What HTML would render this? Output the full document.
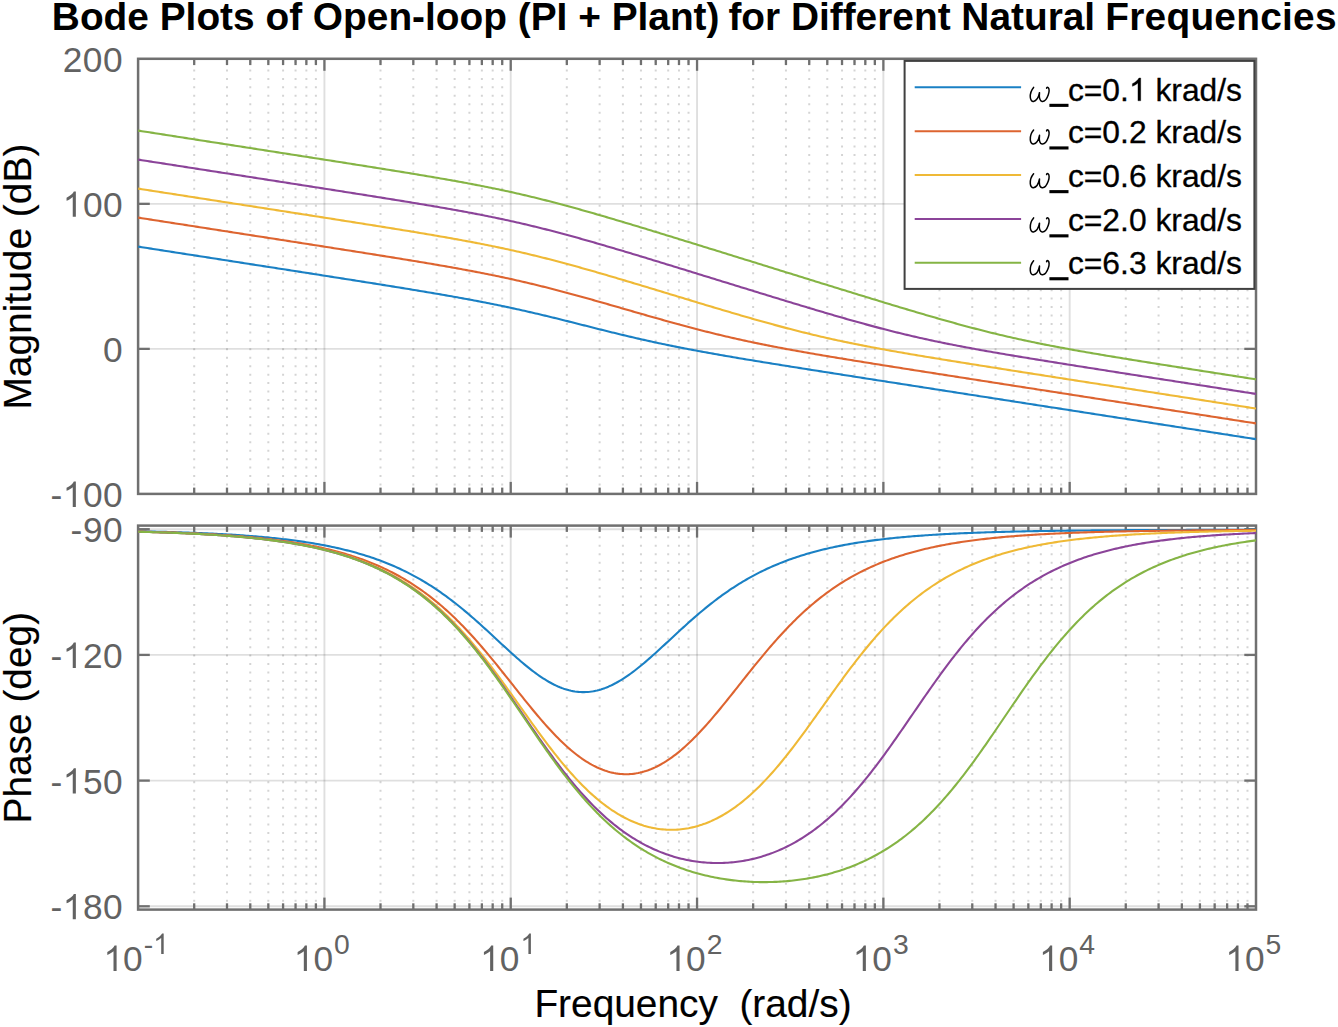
<!DOCTYPE html>
<html><head><meta charset="utf-8"><title>Bode Plots</title>
<style>
html,body{margin:0;padding:0;background:#fff;}
body{width:1338px;height:1027px;overflow:hidden;font-family:"Liberation Sans",sans-serif;}
svg{display:block;}
text{font-family:"Liberation Sans",sans-serif;}
.tk{fill:#707070;font-size:35.3px;}
.ex{fill:#707070;font-size:28.2px;}
.lb{fill:#000;font-size:38.85px;stroke:#000;stroke-width:0.15px;}
.lg{fill:#000;font-size:31.8px;stroke:#000;stroke-width:0.3px;}
</style></head><body>
<svg width="1338" height="1027" viewBox="0 0 1338 1027">
<rect x="0" y="0" width="1338" height="1027" fill="#ffffff"/>
<defs>
<clipPath id="c1"><rect x="138.1" y="58.8" width="1117.9" height="435.09999999999997"/></clipPath>
<clipPath id="c2"><rect x="138.1" y="525.6" width="1117.9" height="384.0"/></clipPath>
</defs>

<g stroke="#000" stroke-opacity="0.17" stroke-width="2" stroke-dasharray="2 6.45" fill="none">
<line x1="194.19" y1="61.00" x2="194.19" y2="493.90"/>
<line x1="227.00" y1="61.00" x2="227.00" y2="493.90"/>
<line x1="250.27" y1="61.00" x2="250.27" y2="493.90"/>
<line x1="268.33" y1="61.00" x2="268.33" y2="493.90"/>
<line x1="283.08" y1="61.00" x2="283.08" y2="493.90"/>
<line x1="295.56" y1="61.00" x2="295.56" y2="493.90"/>
<line x1="306.36" y1="61.00" x2="306.36" y2="493.90"/>
<line x1="315.89" y1="61.00" x2="315.89" y2="493.90"/>
<line x1="380.50" y1="61.00" x2="380.50" y2="493.90"/>
<line x1="413.31" y1="61.00" x2="413.31" y2="493.90"/>
<line x1="436.59" y1="61.00" x2="436.59" y2="493.90"/>
<line x1="454.65" y1="61.00" x2="454.65" y2="493.90"/>
<line x1="469.40" y1="61.00" x2="469.40" y2="493.90"/>
<line x1="481.87" y1="61.00" x2="481.87" y2="493.90"/>
<line x1="492.68" y1="61.00" x2="492.68" y2="493.90"/>
<line x1="502.21" y1="61.00" x2="502.21" y2="493.90"/>
<line x1="566.82" y1="61.00" x2="566.82" y2="493.90"/>
<line x1="599.63" y1="61.00" x2="599.63" y2="493.90"/>
<line x1="622.91" y1="61.00" x2="622.91" y2="493.90"/>
<line x1="640.96" y1="61.00" x2="640.96" y2="493.90"/>
<line x1="655.72" y1="61.00" x2="655.72" y2="493.90"/>
<line x1="668.19" y1="61.00" x2="668.19" y2="493.90"/>
<line x1="678.99" y1="61.00" x2="678.99" y2="493.90"/>
<line x1="688.52" y1="61.00" x2="688.52" y2="493.90"/>
<line x1="753.14" y1="61.00" x2="753.14" y2="493.90"/>
<line x1="785.95" y1="61.00" x2="785.95" y2="493.90"/>
<line x1="809.22" y1="61.00" x2="809.22" y2="493.90"/>
<line x1="827.28" y1="61.00" x2="827.28" y2="493.90"/>
<line x1="842.03" y1="61.00" x2="842.03" y2="493.90"/>
<line x1="854.51" y1="61.00" x2="854.51" y2="493.90"/>
<line x1="865.31" y1="61.00" x2="865.31" y2="493.90"/>
<line x1="874.84" y1="61.00" x2="874.84" y2="493.90"/>
<line x1="939.45" y1="61.00" x2="939.45" y2="493.90"/>
<line x1="972.26" y1="61.00" x2="972.26" y2="493.90"/>
<line x1="995.54" y1="61.00" x2="995.54" y2="493.90"/>
<line x1="1013.60" y1="61.00" x2="1013.60" y2="493.90"/>
<line x1="1028.35" y1="61.00" x2="1028.35" y2="493.90"/>
<line x1="1040.82" y1="61.00" x2="1040.82" y2="493.90"/>
<line x1="1051.63" y1="61.00" x2="1051.63" y2="493.90"/>
<line x1="1061.16" y1="61.00" x2="1061.16" y2="493.90"/>
<line x1="1125.77" y1="61.00" x2="1125.77" y2="493.90"/>
<line x1="1158.58" y1="61.00" x2="1158.58" y2="493.90"/>
<line x1="1181.86" y1="61.00" x2="1181.86" y2="493.90"/>
<line x1="1199.91" y1="61.00" x2="1199.91" y2="493.90"/>
<line x1="1214.67" y1="61.00" x2="1214.67" y2="493.90"/>
<line x1="1227.14" y1="61.00" x2="1227.14" y2="493.90"/>
<line x1="1237.94" y1="61.00" x2="1237.94" y2="493.90"/>
<line x1="1247.47" y1="61.00" x2="1247.47" y2="493.90"/>
</g>
<g stroke="#262626" stroke-opacity="0.15" stroke-width="1.9" fill="none">
<line x1="324.42" y1="58.8" x2="324.42" y2="493.9"/>
<line x1="510.73" y1="58.8" x2="510.73" y2="493.9"/>
<line x1="697.05" y1="58.8" x2="697.05" y2="493.9"/>
<line x1="883.37" y1="58.8" x2="883.37" y2="493.9"/>
<line x1="1069.68" y1="58.8" x2="1069.68" y2="493.9"/>
<line x1="138.1" y1="58.80" x2="1256.0" y2="58.80"/>
<line x1="138.1" y1="203.83" x2="1256.0" y2="203.83"/>
<line x1="138.1" y1="348.87" x2="1256.0" y2="348.87"/>
<line x1="138.1" y1="493.90" x2="1256.0" y2="493.90"/>
</g>
<g stroke="#707070" stroke-width="2.3" fill="none">
<line x1="194.19" y1="58.8" x2="194.19" y2="65.10"/>
<line x1="194.19" y1="493.9" x2="194.19" y2="487.60"/>
<line x1="227.00" y1="58.8" x2="227.00" y2="65.10"/>
<line x1="227.00" y1="493.9" x2="227.00" y2="487.60"/>
<line x1="250.27" y1="58.8" x2="250.27" y2="65.10"/>
<line x1="250.27" y1="493.9" x2="250.27" y2="487.60"/>
<line x1="268.33" y1="58.8" x2="268.33" y2="65.10"/>
<line x1="268.33" y1="493.9" x2="268.33" y2="487.60"/>
<line x1="283.08" y1="58.8" x2="283.08" y2="65.10"/>
<line x1="283.08" y1="493.9" x2="283.08" y2="487.60"/>
<line x1="295.56" y1="58.8" x2="295.56" y2="65.10"/>
<line x1="295.56" y1="493.9" x2="295.56" y2="487.60"/>
<line x1="306.36" y1="58.8" x2="306.36" y2="65.10"/>
<line x1="306.36" y1="493.9" x2="306.36" y2="487.60"/>
<line x1="315.89" y1="58.8" x2="315.89" y2="65.10"/>
<line x1="315.89" y1="493.9" x2="315.89" y2="487.60"/>
<line x1="324.42" y1="58.8" x2="324.42" y2="70.80"/>
<line x1="324.42" y1="493.9" x2="324.42" y2="481.90"/>
<line x1="380.50" y1="58.8" x2="380.50" y2="65.10"/>
<line x1="380.50" y1="493.9" x2="380.50" y2="487.60"/>
<line x1="413.31" y1="58.8" x2="413.31" y2="65.10"/>
<line x1="413.31" y1="493.9" x2="413.31" y2="487.60"/>
<line x1="436.59" y1="58.8" x2="436.59" y2="65.10"/>
<line x1="436.59" y1="493.9" x2="436.59" y2="487.60"/>
<line x1="454.65" y1="58.8" x2="454.65" y2="65.10"/>
<line x1="454.65" y1="493.9" x2="454.65" y2="487.60"/>
<line x1="469.40" y1="58.8" x2="469.40" y2="65.10"/>
<line x1="469.40" y1="493.9" x2="469.40" y2="487.60"/>
<line x1="481.87" y1="58.8" x2="481.87" y2="65.10"/>
<line x1="481.87" y1="493.9" x2="481.87" y2="487.60"/>
<line x1="492.68" y1="58.8" x2="492.68" y2="65.10"/>
<line x1="492.68" y1="493.9" x2="492.68" y2="487.60"/>
<line x1="502.21" y1="58.8" x2="502.21" y2="65.10"/>
<line x1="502.21" y1="493.9" x2="502.21" y2="487.60"/>
<line x1="510.73" y1="58.8" x2="510.73" y2="70.80"/>
<line x1="510.73" y1="493.9" x2="510.73" y2="481.90"/>
<line x1="566.82" y1="58.8" x2="566.82" y2="65.10"/>
<line x1="566.82" y1="493.9" x2="566.82" y2="487.60"/>
<line x1="599.63" y1="58.8" x2="599.63" y2="65.10"/>
<line x1="599.63" y1="493.9" x2="599.63" y2="487.60"/>
<line x1="622.91" y1="58.8" x2="622.91" y2="65.10"/>
<line x1="622.91" y1="493.9" x2="622.91" y2="487.60"/>
<line x1="640.96" y1="58.8" x2="640.96" y2="65.10"/>
<line x1="640.96" y1="493.9" x2="640.96" y2="487.60"/>
<line x1="655.72" y1="58.8" x2="655.72" y2="65.10"/>
<line x1="655.72" y1="493.9" x2="655.72" y2="487.60"/>
<line x1="668.19" y1="58.8" x2="668.19" y2="65.10"/>
<line x1="668.19" y1="493.9" x2="668.19" y2="487.60"/>
<line x1="678.99" y1="58.8" x2="678.99" y2="65.10"/>
<line x1="678.99" y1="493.9" x2="678.99" y2="487.60"/>
<line x1="688.52" y1="58.8" x2="688.52" y2="65.10"/>
<line x1="688.52" y1="493.9" x2="688.52" y2="487.60"/>
<line x1="697.05" y1="58.8" x2="697.05" y2="70.80"/>
<line x1="697.05" y1="493.9" x2="697.05" y2="481.90"/>
<line x1="753.14" y1="58.8" x2="753.14" y2="65.10"/>
<line x1="753.14" y1="493.9" x2="753.14" y2="487.60"/>
<line x1="785.95" y1="58.8" x2="785.95" y2="65.10"/>
<line x1="785.95" y1="493.9" x2="785.95" y2="487.60"/>
<line x1="809.22" y1="58.8" x2="809.22" y2="65.10"/>
<line x1="809.22" y1="493.9" x2="809.22" y2="487.60"/>
<line x1="827.28" y1="58.8" x2="827.28" y2="65.10"/>
<line x1="827.28" y1="493.9" x2="827.28" y2="487.60"/>
<line x1="842.03" y1="58.8" x2="842.03" y2="65.10"/>
<line x1="842.03" y1="493.9" x2="842.03" y2="487.60"/>
<line x1="854.51" y1="58.8" x2="854.51" y2="65.10"/>
<line x1="854.51" y1="493.9" x2="854.51" y2="487.60"/>
<line x1="865.31" y1="58.8" x2="865.31" y2="65.10"/>
<line x1="865.31" y1="493.9" x2="865.31" y2="487.60"/>
<line x1="874.84" y1="58.8" x2="874.84" y2="65.10"/>
<line x1="874.84" y1="493.9" x2="874.84" y2="487.60"/>
<line x1="883.37" y1="58.8" x2="883.37" y2="70.80"/>
<line x1="883.37" y1="493.9" x2="883.37" y2="481.90"/>
<line x1="939.45" y1="58.8" x2="939.45" y2="65.10"/>
<line x1="939.45" y1="493.9" x2="939.45" y2="487.60"/>
<line x1="972.26" y1="58.8" x2="972.26" y2="65.10"/>
<line x1="972.26" y1="493.9" x2="972.26" y2="487.60"/>
<line x1="995.54" y1="58.8" x2="995.54" y2="65.10"/>
<line x1="995.54" y1="493.9" x2="995.54" y2="487.60"/>
<line x1="1013.60" y1="58.8" x2="1013.60" y2="65.10"/>
<line x1="1013.60" y1="493.9" x2="1013.60" y2="487.60"/>
<line x1="1028.35" y1="58.8" x2="1028.35" y2="65.10"/>
<line x1="1028.35" y1="493.9" x2="1028.35" y2="487.60"/>
<line x1="1040.82" y1="58.8" x2="1040.82" y2="65.10"/>
<line x1="1040.82" y1="493.9" x2="1040.82" y2="487.60"/>
<line x1="1051.63" y1="58.8" x2="1051.63" y2="65.10"/>
<line x1="1051.63" y1="493.9" x2="1051.63" y2="487.60"/>
<line x1="1061.16" y1="58.8" x2="1061.16" y2="65.10"/>
<line x1="1061.16" y1="493.9" x2="1061.16" y2="487.60"/>
<line x1="1069.68" y1="58.8" x2="1069.68" y2="70.80"/>
<line x1="1069.68" y1="493.9" x2="1069.68" y2="481.90"/>
<line x1="1125.77" y1="58.8" x2="1125.77" y2="65.10"/>
<line x1="1125.77" y1="493.9" x2="1125.77" y2="487.60"/>
<line x1="1158.58" y1="58.8" x2="1158.58" y2="65.10"/>
<line x1="1158.58" y1="493.9" x2="1158.58" y2="487.60"/>
<line x1="1181.86" y1="58.8" x2="1181.86" y2="65.10"/>
<line x1="1181.86" y1="493.9" x2="1181.86" y2="487.60"/>
<line x1="1199.91" y1="58.8" x2="1199.91" y2="65.10"/>
<line x1="1199.91" y1="493.9" x2="1199.91" y2="487.60"/>
<line x1="1214.67" y1="58.8" x2="1214.67" y2="65.10"/>
<line x1="1214.67" y1="493.9" x2="1214.67" y2="487.60"/>
<line x1="1227.14" y1="58.8" x2="1227.14" y2="65.10"/>
<line x1="1227.14" y1="493.9" x2="1227.14" y2="487.60"/>
<line x1="1237.94" y1="58.8" x2="1237.94" y2="65.10"/>
<line x1="1237.94" y1="493.9" x2="1237.94" y2="487.60"/>
<line x1="1247.47" y1="58.8" x2="1247.47" y2="65.10"/>
<line x1="1247.47" y1="493.9" x2="1247.47" y2="487.60"/>
<line x1="138.1" y1="203.83" x2="149.79999999999998" y2="203.83"/>
<line x1="1256.0" y1="203.83" x2="1244.3" y2="203.83"/>
<line x1="138.1" y1="348.87" x2="149.79999999999998" y2="348.87"/>
<line x1="1256.0" y1="348.87" x2="1244.3" y2="348.87"/>
</g>
<rect x="138.1" y="58.8" width="1117.9" height="435.09999999999997" fill="none" stroke="#707070" stroke-width="2.5"/>
<g clip-path="url(#c1)" fill="none" stroke-width="2.1" stroke-linejoin="round">
<polyline stroke="#1A80C4" points="138.10,246.61 139.97,246.90 141.83,247.19 143.70,247.48 145.57,247.77 147.43,248.07 149.30,248.36 151.16,248.65 153.03,248.94 154.90,249.23 156.76,249.52 158.63,249.81 160.50,250.10 162.36,250.39 164.23,250.68 166.09,250.97 167.96,251.26 169.83,251.55 171.69,251.84 173.56,252.13 175.43,252.42 177.29,252.71 179.16,253.01 181.02,253.30 182.89,253.59 184.76,253.88 186.62,254.17 188.49,254.46 190.36,254.75 192.22,255.04 194.09,255.33 195.95,255.62 197.82,255.91 199.69,256.20 201.55,256.49 203.42,256.78 205.29,257.07 207.15,257.36 209.02,257.66 210.88,257.95 212.75,258.24 214.62,258.53 216.48,258.82 218.35,259.11 220.22,259.40 222.08,259.69 223.95,259.98 225.82,260.27 227.68,260.56 229.55,260.85 231.41,261.14 233.28,261.43 235.15,261.73 237.01,262.02 238.88,262.31 240.75,262.60 242.61,262.89 244.48,263.18 246.34,263.47 248.21,263.76 250.08,264.05 251.94,264.34 253.81,264.63 255.68,264.92 257.54,265.22 259.41,265.51 261.27,265.80 263.14,266.09 265.01,266.38 266.87,266.67 268.74,266.96 270.61,267.25 272.47,267.54 274.34,267.83 276.20,268.13 278.07,268.42 279.94,268.71 281.80,269.00 283.67,269.29 285.54,269.58 287.40,269.87 289.27,270.16 291.13,270.46 293.00,270.75 294.87,271.04 296.73,271.33 298.60,271.62 300.47,271.91 302.33,272.21 304.20,272.50 306.06,272.79 307.93,273.08 309.80,273.37 311.66,273.66 313.53,273.96 315.40,274.25 317.26,274.54 319.13,274.83 321.00,275.13 322.86,275.42 324.73,275.71 326.59,276.00 328.46,276.30 330.33,276.59 332.19,276.88 334.06,277.17 335.93,277.47 337.79,277.76 339.66,278.05 341.52,278.35 343.39,278.64 345.26,278.93 347.12,279.23 348.99,279.52 350.86,279.82 352.72,280.11 354.59,280.41 356.45,280.70 358.32,281.00 360.19,281.29 362.05,281.59 363.92,281.88 365.79,282.18 367.65,282.47 369.52,282.77 371.38,283.07 373.25,283.36 375.12,283.66 376.98,283.96 378.85,284.26 380.72,284.55 382.58,284.85 384.45,285.15 386.31,285.45 388.18,285.75 390.05,286.05 391.91,286.35 393.78,286.65 395.65,286.95 397.51,287.25 399.38,287.56 401.25,287.86 403.11,288.16 404.98,288.47 406.84,288.77 408.71,289.08 410.58,289.38 412.44,289.69 414.31,290.00 416.18,290.30 418.04,290.61 419.91,290.92 421.77,291.23 423.64,291.54 425.51,291.86 427.37,292.17 429.24,292.48 431.11,292.80 432.97,293.12 434.84,293.43 436.70,293.75 438.57,294.07 440.44,294.39 442.30,294.71 444.17,295.04 446.04,295.36 447.90,295.69 449.77,296.01 451.63,296.34 453.50,296.67 455.37,297.01 457.23,297.34 459.10,297.67 460.97,298.01 462.83,298.35 464.70,298.69 466.56,299.03 468.43,299.38 470.30,299.72 472.16,300.07 474.03,300.42 475.90,300.78 477.76,301.13 479.63,301.49 481.49,301.85 483.36,302.21 485.23,302.57 487.09,302.94 488.96,303.31 490.83,303.68 492.69,304.05 494.56,304.43 496.43,304.81 498.29,305.19 500.16,305.58 502.02,305.96 503.89,306.35 505.76,306.75 507.62,307.14 509.49,307.54 511.36,307.94 513.22,308.35 515.09,308.75 516.95,309.16 518.82,309.57 520.69,309.99 522.55,310.41 524.42,310.83 526.29,311.25 528.15,311.68 530.02,312.11 531.88,312.54 533.75,312.97 535.62,313.41 537.48,313.84 539.35,314.29 541.22,314.73 543.08,315.17 544.95,315.62 546.81,316.07 548.68,316.52 550.55,316.98 552.41,317.43 554.28,317.89 556.15,318.35 558.01,318.81 559.88,319.28 561.74,319.74 563.61,320.20 565.48,320.67 567.34,321.14 569.21,321.61 571.08,322.08 572.94,322.55 574.81,323.02 576.68,323.49 578.54,323.96 580.41,324.43 582.27,324.91 584.14,325.38 586.01,325.85 587.87,326.32 589.74,326.80 591.61,327.27 593.47,327.74 595.34,328.21 597.20,328.68 599.07,329.15 600.94,329.61 602.80,330.08 604.67,330.55 606.54,331.01 608.40,331.47 610.27,331.94 612.13,332.40 614.00,332.85 615.87,333.31 617.73,333.76 619.60,334.22 621.47,334.67 623.33,335.12 625.20,335.56 627.06,336.01 628.93,336.45 630.80,336.89 632.66,337.32 634.53,337.76 636.40,338.19 638.26,338.62 640.13,339.05 641.99,339.47 643.86,339.89 645.73,340.31 647.59,340.73 649.46,341.14 651.33,341.55 653.19,341.96 655.06,342.36 656.93,342.76 658.79,343.16 660.66,343.56 662.52,343.95 664.39,344.34 666.26,344.73 668.12,345.12 669.99,345.50 671.86,345.88 673.72,346.26 675.59,346.63 677.45,347.00 679.32,347.37 681.19,347.74 683.05,348.10 684.92,348.47 686.79,348.83 688.65,349.18 690.52,349.54 692.38,349.89 694.25,350.24 696.12,350.59 697.98,350.94 699.85,351.29 701.72,351.63 703.58,351.97 705.45,352.31 707.31,352.65 709.18,352.98 711.05,353.32 712.91,353.65 714.78,353.98 716.65,354.31 718.51,354.64 720.38,354.96 722.24,355.29 724.11,355.61 725.98,355.93 727.84,356.26 729.71,356.57 731.58,356.89 733.44,357.21 735.31,357.53 737.17,357.84 739.04,358.16 740.91,358.47 742.77,358.78 744.64,359.09 746.51,359.41 748.37,359.71 750.24,360.02 752.11,360.33 753.97,360.64 755.84,360.95 757.70,361.25 759.57,361.56 761.44,361.86 763.30,362.17 765.17,362.47 767.04,362.77 768.90,363.08 770.77,363.38 772.63,363.68 774.50,363.98 776.37,364.28 778.23,364.58 780.10,364.88 781.97,365.18 783.83,365.48 785.70,365.78 787.56,366.08 789.43,366.37 791.30,366.67 793.16,366.97 795.03,367.27 796.90,367.56 798.76,367.86 800.63,368.15 802.49,368.45 804.36,368.75 806.23,369.04 808.09,369.34 809.96,369.63 811.83,369.93 813.69,370.22 815.56,370.52 817.42,370.81 819.29,371.10 821.16,371.40 823.02,371.69 824.89,371.99 826.76,372.28 828.62,372.57 830.49,372.87 832.36,373.16 834.22,373.45 836.09,373.74 837.95,374.04 839.82,374.33 841.69,374.62 843.55,374.92 845.42,375.21 847.29,375.50 849.15,375.79 851.02,376.08 852.88,376.38 854.75,376.67 856.62,376.96 858.48,377.25 860.35,377.54 862.22,377.84 864.08,378.13 865.95,378.42 867.81,378.71 869.68,379.00 871.55,379.29 873.41,379.59 875.28,379.88 877.15,380.17 879.01,380.46 880.88,380.75 882.74,381.04 884.61,381.33 886.48,381.63 888.34,381.92 890.21,382.21 892.08,382.50 893.94,382.79 895.81,383.08 897.67,383.37 899.54,383.66 901.41,383.95 903.27,384.24 905.14,384.54 907.01,384.83 908.87,385.12 910.74,385.41 912.61,385.70 914.47,385.99 916.34,386.28 918.20,386.57 920.07,386.86 921.94,387.15 923.80,387.44 925.67,387.74 927.54,388.03 929.40,388.32 931.27,388.61 933.13,388.90 935.00,389.19 936.87,389.48 938.73,389.77 940.60,390.06 942.47,390.35 944.33,390.64 946.20,390.93 948.06,391.22 949.93,391.52 951.80,391.81 953.66,392.10 955.53,392.39 957.40,392.68 959.26,392.97 961.13,393.26 962.99,393.55 964.86,393.84 966.73,394.13 968.59,394.42 970.46,394.71 972.33,395.00 974.19,395.29 976.06,395.58 977.92,395.88 979.79,396.17 981.66,396.46 983.52,396.75 985.39,397.04 987.26,397.33 989.12,397.62 990.99,397.91 992.85,398.20 994.72,398.49 996.59,398.78 998.45,399.07 1000.32,399.36 1002.19,399.65 1004.05,399.94 1005.92,400.23 1007.79,400.52 1009.65,400.82 1011.52,401.11 1013.38,401.40 1015.25,401.69 1017.12,401.98 1018.98,402.27 1020.85,402.56 1022.72,402.85 1024.58,403.14 1026.45,403.43 1028.31,403.72 1030.18,404.01 1032.05,404.30 1033.91,404.59 1035.78,404.88 1037.65,405.17 1039.51,405.46 1041.38,405.76 1043.24,406.05 1045.11,406.34 1046.98,406.63 1048.84,406.92 1050.71,407.21 1052.58,407.50 1054.44,407.79 1056.31,408.08 1058.17,408.37 1060.04,408.66 1061.91,408.95 1063.77,409.24 1065.64,409.53 1067.51,409.82 1069.37,410.11 1071.24,410.40 1073.10,410.69 1074.97,410.99 1076.84,411.28 1078.70,411.57 1080.57,411.86 1082.44,412.15 1084.30,412.44 1086.17,412.73 1088.04,413.02 1089.90,413.31 1091.77,413.60 1093.63,413.89 1095.50,414.18 1097.37,414.47 1099.23,414.76 1101.10,415.05 1102.97,415.34 1104.83,415.63 1106.70,415.92 1108.56,416.22 1110.43,416.51 1112.30,416.80 1114.16,417.09 1116.03,417.38 1117.90,417.67 1119.76,417.96 1121.63,418.25 1123.49,418.54 1125.36,418.83 1127.23,419.12 1129.09,419.41 1130.96,419.70 1132.83,419.99 1134.69,420.28 1136.56,420.57 1138.42,420.86 1140.29,421.15 1142.16,421.45 1144.02,421.74 1145.89,422.03 1147.76,422.32 1149.62,422.61 1151.49,422.90 1153.35,423.19 1155.22,423.48 1157.09,423.77 1158.95,424.06 1160.82,424.35 1162.69,424.64 1164.55,424.93 1166.42,425.22 1168.28,425.51 1170.15,425.80 1172.02,426.09 1173.88,426.38 1175.75,426.67 1177.62,426.97 1179.48,427.26 1181.35,427.55 1183.22,427.84 1185.08,428.13 1186.95,428.42 1188.81,428.71 1190.68,429.00 1192.55,429.29 1194.41,429.58 1196.28,429.87 1198.15,430.16 1200.01,430.45 1201.88,430.74 1203.74,431.03 1205.61,431.32 1207.48,431.61 1209.34,431.90 1211.21,432.20 1213.08,432.49 1214.94,432.78 1216.81,433.07 1218.67,433.36 1220.54,433.65 1222.41,433.94 1224.27,434.23 1226.14,434.52 1228.01,434.81 1229.87,435.10 1231.74,435.39 1233.60,435.68 1235.47,435.97 1237.34,436.26 1239.20,436.55 1241.07,436.84 1242.94,437.13 1244.80,437.43 1246.67,437.72 1248.53,438.01 1250.40,438.30 1252.27,438.59 1254.13,438.88 1256.00,439.17"/>
<polyline stroke="#DD6430" points="138.10,217.61 139.97,217.90 141.83,218.19 143.70,218.48 145.57,218.77 147.43,219.06 149.30,219.35 151.16,219.64 153.03,219.93 154.90,220.22 156.76,220.51 158.63,220.80 160.50,221.09 162.36,221.38 164.23,221.67 166.09,221.96 167.96,222.26 169.83,222.55 171.69,222.84 173.56,223.13 175.43,223.42 177.29,223.71 179.16,224.00 181.02,224.29 182.89,224.58 184.76,224.87 186.62,225.16 188.49,225.45 190.36,225.74 192.22,226.03 194.09,226.32 195.95,226.61 197.82,226.90 199.69,227.20 201.55,227.49 203.42,227.78 205.29,228.07 207.15,228.36 209.02,228.65 210.88,228.94 212.75,229.23 214.62,229.52 216.48,229.81 218.35,230.10 220.22,230.39 222.08,230.68 223.95,230.97 225.82,231.27 227.68,231.56 229.55,231.85 231.41,232.14 233.28,232.43 235.15,232.72 237.01,233.01 238.88,233.30 240.75,233.59 242.61,233.88 244.48,234.17 246.34,234.46 248.21,234.75 250.08,235.05 251.94,235.34 253.81,235.63 255.68,235.92 257.54,236.21 259.41,236.50 261.27,236.79 263.14,237.08 265.01,237.37 266.87,237.66 268.74,237.96 270.61,238.25 272.47,238.54 274.34,238.83 276.20,239.12 278.07,239.41 279.94,239.70 281.80,239.99 283.67,240.28 285.54,240.58 287.40,240.87 289.27,241.16 291.13,241.45 293.00,241.74 294.87,242.03 296.73,242.32 298.60,242.62 300.47,242.91 302.33,243.20 304.20,243.49 306.06,243.78 307.93,244.08 309.80,244.37 311.66,244.66 313.53,244.95 315.40,245.24 317.26,245.54 319.13,245.83 321.00,246.12 322.86,246.41 324.73,246.71 326.59,247.00 328.46,247.29 330.33,247.58 332.19,247.88 334.06,248.17 335.93,248.46 337.79,248.76 339.66,249.05 341.52,249.34 343.39,249.64 345.26,249.93 347.12,250.23 348.99,250.52 350.86,250.81 352.72,251.11 354.59,251.40 356.45,251.70 358.32,251.99 360.19,252.29 362.05,252.58 363.92,252.88 365.79,253.18 367.65,253.47 369.52,253.77 371.38,254.07 373.25,254.36 375.12,254.66 376.98,254.96 378.85,255.26 380.72,255.56 382.58,255.85 384.45,256.15 386.31,256.45 388.18,256.75 390.05,257.05 391.91,257.35 393.78,257.66 395.65,257.96 397.51,258.26 399.38,258.56 401.25,258.87 403.11,259.17 404.98,259.48 406.84,259.78 408.71,260.09 410.58,260.39 412.44,260.70 414.31,261.01 416.18,261.32 418.04,261.63 419.91,261.94 421.77,262.25 423.64,262.56 425.51,262.88 427.37,263.19 429.24,263.51 431.11,263.82 432.97,264.14 434.84,264.46 436.70,264.78 438.57,265.10 440.44,265.42 442.30,265.75 444.17,266.07 446.04,266.40 447.90,266.72 449.77,267.05 451.63,267.39 453.50,267.72 455.37,268.05 457.23,268.39 459.10,268.73 460.97,269.07 462.83,269.41 464.70,269.75 466.56,270.10 468.43,270.44 470.30,270.79 472.16,271.15 474.03,271.50 475.90,271.86 477.76,272.22 479.63,272.58 481.49,272.94 483.36,273.31 485.23,273.68 487.09,274.05 488.96,274.42 490.83,274.80 492.69,275.18 494.56,275.56 496.43,275.95 498.29,276.34 500.16,276.73 502.02,277.12 503.89,277.52 505.76,277.92 507.62,278.33 509.49,278.73 511.36,279.14 513.22,279.56 515.09,279.98 516.95,280.40 518.82,280.82 520.69,281.25 522.55,281.67 524.42,282.11 526.29,282.54 528.15,282.98 530.02,283.43 531.88,283.87 533.75,284.32 535.62,284.77 537.48,285.23 539.35,285.69 541.22,286.15 543.08,286.62 544.95,287.08 546.81,287.56 548.68,288.03 550.55,288.51 552.41,288.99 554.28,289.47 556.15,289.95 558.01,290.44 559.88,290.93 561.74,291.42 563.61,291.92 565.48,292.42 567.34,292.92 569.21,293.42 571.08,293.93 572.94,294.43 574.81,294.94 576.68,295.45 578.54,295.97 580.41,296.48 582.27,297.00 584.14,297.52 586.01,298.04 587.87,298.56 589.74,299.08 591.61,299.61 593.47,300.13 595.34,300.66 597.20,301.19 599.07,301.72 600.94,302.25 602.80,302.78 604.67,303.32 606.54,303.85 608.40,304.38 610.27,304.92 612.13,305.45 614.00,305.99 615.87,306.53 617.73,307.06 619.60,307.60 621.47,308.14 623.33,308.68 625.20,309.21 627.06,309.75 628.93,310.29 630.80,310.83 632.66,311.37 634.53,311.90 636.40,312.44 638.26,312.98 640.13,313.51 641.99,314.05 643.86,314.58 645.73,315.12 647.59,315.65 649.46,316.18 651.33,316.72 653.19,317.25 655.06,317.78 656.93,318.30 658.79,318.83 660.66,319.36 662.52,319.88 664.39,320.40 666.26,320.93 668.12,321.45 669.99,321.97 671.86,322.48 673.72,323.00 675.59,323.51 677.45,324.02 679.32,324.53 681.19,325.04 683.05,325.54 684.92,326.04 686.79,326.54 688.65,327.04 690.52,327.54 692.38,328.03 694.25,328.52 696.12,329.01 697.98,329.49 699.85,329.97 701.72,330.45 703.58,330.93 705.45,331.40 707.31,331.87 709.18,332.34 711.05,332.81 712.91,333.27 714.78,333.73 716.65,334.18 718.51,334.63 720.38,335.08 722.24,335.53 724.11,335.97 725.98,336.41 727.84,336.85 729.71,337.28 731.58,337.71 733.44,338.13 735.31,338.56 737.17,338.98 739.04,339.39 740.91,339.81 742.77,340.22 744.64,340.62 746.51,341.03 748.37,341.43 750.24,341.83 752.11,342.22 753.97,342.61 755.84,343.00 757.70,343.38 759.57,343.77 761.44,344.15 763.30,344.52 765.17,344.90 767.04,345.27 768.90,345.64 770.77,346.00 772.63,346.37 774.50,346.73 776.37,347.09 778.23,347.44 780.10,347.80 781.97,348.15 783.83,348.50 785.70,348.85 787.56,349.19 789.43,349.54 791.30,349.88 793.16,350.22 795.03,350.55 796.90,350.89 798.76,351.22 800.63,351.56 802.49,351.89 804.36,352.22 806.23,352.54 808.09,352.87 809.96,353.20 811.83,353.52 813.69,353.84 815.56,354.16 817.42,354.48 819.29,354.80 821.16,355.12 823.02,355.43 824.89,355.75 826.76,356.06 828.62,356.38 830.49,356.69 832.36,357.00 834.22,357.31 836.09,357.62 837.95,357.93 839.82,358.24 841.69,358.54 843.55,358.85 845.42,359.16 847.29,359.46 849.15,359.77 851.02,360.07 852.88,360.37 854.75,360.68 856.62,360.98 858.48,361.28 860.35,361.58 862.22,361.88 864.08,362.18 865.95,362.48 867.81,362.78 869.68,363.08 871.55,363.38 873.41,363.68 875.28,363.98 877.15,364.28 879.01,364.57 880.88,364.87 882.74,365.17 884.61,365.46 886.48,365.76 888.34,366.06 890.21,366.35 892.08,366.65 893.94,366.94 895.81,367.24 897.67,367.53 899.54,367.83 901.41,368.12 903.27,368.42 905.14,368.71 907.01,369.01 908.87,369.30 910.74,369.59 912.61,369.89 914.47,370.18 916.34,370.47 918.20,370.77 920.07,371.06 921.94,371.35 923.80,371.65 925.67,371.94 927.54,372.23 929.40,372.52 931.27,372.82 933.13,373.11 935.00,373.40 936.87,373.69 938.73,373.99 940.60,374.28 942.47,374.57 944.33,374.86 946.20,375.15 948.06,375.44 949.93,375.74 951.80,376.03 953.66,376.32 955.53,376.61 957.40,376.90 959.26,377.19 961.13,377.49 962.99,377.78 964.86,378.07 966.73,378.36 968.59,378.65 970.46,378.94 972.33,379.23 974.19,379.53 976.06,379.82 977.92,380.11 979.79,380.40 981.66,380.69 983.52,380.98 985.39,381.27 987.26,381.56 989.12,381.85 990.99,382.15 992.85,382.44 994.72,382.73 996.59,383.02 998.45,383.31 1000.32,383.60 1002.19,383.89 1004.05,384.18 1005.92,384.47 1007.79,384.76 1009.65,385.05 1011.52,385.35 1013.38,385.64 1015.25,385.93 1017.12,386.22 1018.98,386.51 1020.85,386.80 1022.72,387.09 1024.58,387.38 1026.45,387.67 1028.31,387.96 1030.18,388.25 1032.05,388.54 1033.91,388.83 1035.78,389.12 1037.65,389.42 1039.51,389.71 1041.38,390.00 1043.24,390.29 1045.11,390.58 1046.98,390.87 1048.84,391.16 1050.71,391.45 1052.58,391.74 1054.44,392.03 1056.31,392.32 1058.17,392.61 1060.04,392.90 1061.91,393.19 1063.77,393.48 1065.64,393.78 1067.51,394.07 1069.37,394.36 1071.24,394.65 1073.10,394.94 1074.97,395.23 1076.84,395.52 1078.70,395.81 1080.57,396.10 1082.44,396.39 1084.30,396.68 1086.17,396.97 1088.04,397.26 1089.90,397.55 1091.77,397.84 1093.63,398.13 1095.50,398.42 1097.37,398.72 1099.23,399.01 1101.10,399.30 1102.97,399.59 1104.83,399.88 1106.70,400.17 1108.56,400.46 1110.43,400.75 1112.30,401.04 1114.16,401.33 1116.03,401.62 1117.90,401.91 1119.76,402.20 1121.63,402.49 1123.49,402.78 1125.36,403.07 1127.23,403.36 1129.09,403.66 1130.96,403.95 1132.83,404.24 1134.69,404.53 1136.56,404.82 1138.42,405.11 1140.29,405.40 1142.16,405.69 1144.02,405.98 1145.89,406.27 1147.76,406.56 1149.62,406.85 1151.49,407.14 1153.35,407.43 1155.22,407.72 1157.09,408.01 1158.95,408.30 1160.82,408.59 1162.69,408.89 1164.55,409.18 1166.42,409.47 1168.28,409.76 1170.15,410.05 1172.02,410.34 1173.88,410.63 1175.75,410.92 1177.62,411.21 1179.48,411.50 1181.35,411.79 1183.22,412.08 1185.08,412.37 1186.95,412.66 1188.81,412.95 1190.68,413.24 1192.55,413.53 1194.41,413.82 1196.28,414.12 1198.15,414.41 1200.01,414.70 1201.88,414.99 1203.74,415.28 1205.61,415.57 1207.48,415.86 1209.34,416.15 1211.21,416.44 1213.08,416.73 1214.94,417.02 1216.81,417.31 1218.67,417.60 1220.54,417.89 1222.41,418.18 1224.27,418.47 1226.14,418.76 1228.01,419.05 1229.87,419.35 1231.74,419.64 1233.60,419.93 1235.47,420.22 1237.34,420.51 1239.20,420.80 1241.07,421.09 1242.94,421.38 1244.80,421.67 1246.67,421.96 1248.53,422.25 1250.40,422.54 1252.27,422.83 1254.13,423.12 1256.00,423.41"/>
<polyline stroke="#EFB936" points="138.10,188.60 139.97,188.89 141.83,189.18 143.70,189.47 145.57,189.76 147.43,190.05 149.30,190.34 151.16,190.63 153.03,190.92 154.90,191.21 156.76,191.50 158.63,191.80 160.50,192.09 162.36,192.38 164.23,192.67 166.09,192.96 167.96,193.25 169.83,193.54 171.69,193.83 173.56,194.12 175.43,194.41 177.29,194.70 179.16,194.99 181.02,195.28 182.89,195.57 184.76,195.86 186.62,196.15 188.49,196.45 190.36,196.74 192.22,197.03 194.09,197.32 195.95,197.61 197.82,197.90 199.69,198.19 201.55,198.48 203.42,198.77 205.29,199.06 207.15,199.35 209.02,199.64 210.88,199.93 212.75,200.22 214.62,200.51 216.48,200.80 218.35,201.10 220.22,201.39 222.08,201.68 223.95,201.97 225.82,202.26 227.68,202.55 229.55,202.84 231.41,203.13 233.28,203.42 235.15,203.71 237.01,204.00 238.88,204.29 240.75,204.58 242.61,204.88 244.48,205.17 246.34,205.46 248.21,205.75 250.08,206.04 251.94,206.33 253.81,206.62 255.68,206.91 257.54,207.20 259.41,207.49 261.27,207.78 263.14,208.08 265.01,208.37 266.87,208.66 268.74,208.95 270.61,209.24 272.47,209.53 274.34,209.82 276.20,210.11 278.07,210.40 279.94,210.70 281.80,210.99 283.67,211.28 285.54,211.57 287.40,211.86 289.27,212.15 291.13,212.44 293.00,212.74 294.87,213.03 296.73,213.32 298.60,213.61 300.47,213.90 302.33,214.19 304.20,214.49 306.06,214.78 307.93,215.07 309.80,215.36 311.66,215.65 313.53,215.94 315.40,216.24 317.26,216.53 319.13,216.82 321.00,217.11 322.86,217.41 324.73,217.70 326.59,217.99 328.46,218.28 330.33,218.58 332.19,218.87 334.06,219.16 335.93,219.46 337.79,219.75 339.66,220.04 341.52,220.34 343.39,220.63 345.26,220.93 347.12,221.22 348.99,221.51 350.86,221.81 352.72,222.10 354.59,222.40 356.45,222.69 358.32,222.99 360.19,223.28 362.05,223.58 363.92,223.87 365.79,224.17 367.65,224.47 369.52,224.76 371.38,225.06 373.25,225.36 375.12,225.66 376.98,225.95 378.85,226.25 380.72,226.55 382.58,226.85 384.45,227.15 386.31,227.45 388.18,227.75 390.05,228.05 391.91,228.35 393.78,228.65 395.65,228.95 397.51,229.26 399.38,229.56 401.25,229.86 403.11,230.17 404.98,230.47 406.84,230.78 408.71,231.08 410.58,231.39 412.44,231.70 414.31,232.01 416.18,232.31 418.04,232.62 419.91,232.93 421.77,233.25 423.64,233.56 425.51,233.87 427.37,234.19 429.24,234.50 431.11,234.82 432.97,235.14 434.84,235.46 436.70,235.78 438.57,236.10 440.44,236.42 442.30,236.74 444.17,237.07 446.04,237.40 447.90,237.72 449.77,238.05 451.63,238.38 453.50,238.72 455.37,239.05 457.23,239.39 459.10,239.73 460.97,240.07 462.83,240.41 464.70,240.75 466.56,241.10 468.43,241.45 470.30,241.80 472.16,242.15 474.03,242.50 475.90,242.86 477.76,243.22 479.63,243.58 481.49,243.95 483.36,244.32 485.23,244.68 487.09,245.06 488.96,245.43 490.83,245.81 492.69,246.19 494.56,246.57 496.43,246.96 498.29,247.35 500.16,247.74 502.02,248.14 503.89,248.54 505.76,248.94 507.62,249.34 509.49,249.75 511.36,250.16 513.22,250.58 515.09,251.00 516.95,251.42 518.82,251.84 520.69,252.27 522.55,252.70 524.42,253.14 526.29,253.58 528.15,254.02 530.02,254.46 531.88,254.91 533.75,255.36 535.62,255.82 537.48,256.27 539.35,256.74 541.22,257.20 543.08,257.67 544.95,258.14 546.81,258.61 548.68,259.09 550.55,259.57 552.41,260.05 554.28,260.54 556.15,261.03 558.01,261.52 559.88,262.01 561.74,262.51 563.61,263.01 565.48,263.51 567.34,264.02 569.21,264.53 571.08,265.04 572.94,265.55 574.81,266.06 576.68,266.58 578.54,267.10 580.41,267.62 582.27,268.14 584.14,268.67 586.01,269.20 587.87,269.73 589.74,270.26 591.61,270.79 593.47,271.33 595.34,271.86 597.20,272.40 599.07,272.94 600.94,273.48 602.80,274.03 604.67,274.57 606.54,275.11 608.40,275.66 610.27,276.21 612.13,276.76 614.00,277.31 615.87,277.86 617.73,278.41 619.60,278.97 621.47,279.52 623.33,280.08 625.20,280.63 627.06,281.19 628.93,281.75 630.80,282.31 632.66,282.87 634.53,283.43 636.40,283.99 638.26,284.55 640.13,285.11 641.99,285.67 643.86,286.23 645.73,286.80 647.59,287.36 649.46,287.93 651.33,288.49 653.19,289.05 655.06,289.62 656.93,290.19 658.79,290.75 660.66,291.32 662.52,291.88 664.39,292.45 666.26,293.01 668.12,293.58 669.99,294.15 671.86,294.71 673.72,295.28 675.59,295.85 677.45,296.41 679.32,296.98 681.19,297.54 683.05,298.11 684.92,298.68 686.79,299.24 688.65,299.81 690.52,300.37 692.38,300.94 694.25,301.50 696.12,302.06 697.98,302.63 699.85,303.19 701.72,303.75 703.58,304.31 705.45,304.88 707.31,305.44 709.18,306.00 711.05,306.56 712.91,307.12 714.78,307.67 716.65,308.23 718.51,308.79 720.38,309.34 722.24,309.90 724.11,310.45 725.98,311.01 727.84,311.56 729.71,312.11 731.58,312.66 733.44,313.21 735.31,313.76 737.17,314.30 739.04,314.85 740.91,315.39 742.77,315.93 744.64,316.47 746.51,317.01 748.37,317.55 750.24,318.08 752.11,318.62 753.97,319.15 755.84,319.68 757.70,320.21 759.57,320.74 761.44,321.26 763.30,321.78 765.17,322.30 767.04,322.82 768.90,323.34 770.77,323.85 772.63,324.36 774.50,324.87 776.37,325.38 778.23,325.88 780.10,326.38 781.97,326.88 783.83,327.38 785.70,327.87 787.56,328.36 789.43,328.85 791.30,329.33 793.16,329.82 795.03,330.29 796.90,330.77 798.76,331.24 800.63,331.71 802.49,332.18 804.36,332.64 806.23,333.10 808.09,333.56 809.96,334.01 811.83,334.46 813.69,334.91 815.56,335.35 817.42,335.79 819.29,336.22 821.16,336.66 823.02,337.09 824.89,337.51 826.76,337.94 828.62,338.36 830.49,338.77 832.36,339.19 834.22,339.60 836.09,340.00 837.95,340.41 839.82,340.81 841.69,341.20 843.55,341.60 845.42,341.99 847.29,342.38 849.15,342.76 851.02,343.15 852.88,343.52 854.75,343.90 856.62,344.28 858.48,344.65 860.35,345.01 862.22,345.38 864.08,345.74 865.95,346.10 867.81,346.46 869.68,346.82 871.55,347.17 873.41,347.52 875.28,347.87 877.15,348.22 879.01,348.57 880.88,348.91 882.74,349.25 884.61,349.59 886.48,349.93 888.34,350.26 890.21,350.60 892.08,350.93 893.94,351.26 895.81,351.59 897.67,351.91 899.54,352.24 901.41,352.57 903.27,352.89 905.14,353.21 907.01,353.53 908.87,353.85 910.74,354.17 912.61,354.49 914.47,354.80 916.34,355.12 918.20,355.43 920.07,355.74 921.94,356.06 923.80,356.37 925.67,356.68 927.54,356.99 929.40,357.30 931.27,357.60 933.13,357.91 935.00,358.22 936.87,358.52 938.73,358.83 940.60,359.13 942.47,359.44 944.33,359.74 946.20,360.04 948.06,360.34 949.93,360.65 951.80,360.95 953.66,361.25 955.53,361.55 957.40,361.85 959.26,362.15 961.13,362.45 962.99,362.75 964.86,363.04 966.73,363.34 968.59,363.64 970.46,363.94 972.33,364.23 974.19,364.53 976.06,364.83 977.92,365.12 979.79,365.42 981.66,365.72 983.52,366.01 985.39,366.31 987.26,366.60 989.12,366.90 990.99,367.19 992.85,367.49 994.72,367.78 996.59,368.07 998.45,368.37 1000.32,368.66 1002.19,368.96 1004.05,369.25 1005.92,369.54 1007.79,369.84 1009.65,370.13 1011.52,370.42 1013.38,370.72 1015.25,371.01 1017.12,371.30 1018.98,371.59 1020.85,371.89 1022.72,372.18 1024.58,372.47 1026.45,372.76 1028.31,373.06 1030.18,373.35 1032.05,373.64 1033.91,373.93 1035.78,374.22 1037.65,374.52 1039.51,374.81 1041.38,375.10 1043.24,375.39 1045.11,375.68 1046.98,375.97 1048.84,376.27 1050.71,376.56 1052.58,376.85 1054.44,377.14 1056.31,377.43 1058.17,377.72 1060.04,378.01 1061.91,378.31 1063.77,378.60 1065.64,378.89 1067.51,379.18 1069.37,379.47 1071.24,379.76 1073.10,380.05 1074.97,380.34 1076.84,380.63 1078.70,380.93 1080.57,381.22 1082.44,381.51 1084.30,381.80 1086.17,382.09 1088.04,382.38 1089.90,382.67 1091.77,382.96 1093.63,383.25 1095.50,383.54 1097.37,383.83 1099.23,384.13 1101.10,384.42 1102.97,384.71 1104.83,385.00 1106.70,385.29 1108.56,385.58 1110.43,385.87 1112.30,386.16 1114.16,386.45 1116.03,386.74 1117.90,387.03 1119.76,387.32 1121.63,387.62 1123.49,387.91 1125.36,388.20 1127.23,388.49 1129.09,388.78 1130.96,389.07 1132.83,389.36 1134.69,389.65 1136.56,389.94 1138.42,390.23 1140.29,390.52 1142.16,390.81 1144.02,391.10 1145.89,391.39 1147.76,391.68 1149.62,391.98 1151.49,392.27 1153.35,392.56 1155.22,392.85 1157.09,393.14 1158.95,393.43 1160.82,393.72 1162.69,394.01 1164.55,394.30 1166.42,394.59 1168.28,394.88 1170.15,395.17 1172.02,395.46 1173.88,395.75 1175.75,396.04 1177.62,396.33 1179.48,396.62 1181.35,396.92 1183.22,397.21 1185.08,397.50 1186.95,397.79 1188.81,398.08 1190.68,398.37 1192.55,398.66 1194.41,398.95 1196.28,399.24 1198.15,399.53 1200.01,399.82 1201.88,400.11 1203.74,400.40 1205.61,400.69 1207.48,400.98 1209.34,401.27 1211.21,401.56 1213.08,401.86 1214.94,402.15 1216.81,402.44 1218.67,402.73 1220.54,403.02 1222.41,403.31 1224.27,403.60 1226.14,403.89 1228.01,404.18 1229.87,404.47 1231.74,404.76 1233.60,405.05 1235.47,405.34 1237.34,405.63 1239.20,405.92 1241.07,406.21 1242.94,406.50 1244.80,406.79 1246.67,407.09 1248.53,407.38 1250.40,407.67 1252.27,407.96 1254.13,408.25 1256.00,408.54"/>
<polyline stroke="#8B4499" points="138.10,159.59 139.97,159.88 141.83,160.17 143.70,160.46 145.57,160.75 147.43,161.05 149.30,161.34 151.16,161.63 153.03,161.92 154.90,162.21 156.76,162.50 158.63,162.79 160.50,163.08 162.36,163.37 164.23,163.66 166.09,163.95 167.96,164.24 169.83,164.53 171.69,164.82 173.56,165.11 175.43,165.40 177.29,165.69 179.16,165.99 181.02,166.28 182.89,166.57 184.76,166.86 186.62,167.15 188.49,167.44 190.36,167.73 192.22,168.02 194.09,168.31 195.95,168.60 197.82,168.89 199.69,169.18 201.55,169.47 203.42,169.76 205.29,170.05 207.15,170.34 209.02,170.64 210.88,170.93 212.75,171.22 214.62,171.51 216.48,171.80 218.35,172.09 220.22,172.38 222.08,172.67 223.95,172.96 225.82,173.25 227.68,173.54 229.55,173.83 231.41,174.12 233.28,174.41 235.15,174.71 237.01,175.00 238.88,175.29 240.75,175.58 242.61,175.87 244.48,176.16 246.34,176.45 248.21,176.74 250.08,177.03 251.94,177.32 253.81,177.61 255.68,177.90 257.54,178.20 259.41,178.49 261.27,178.78 263.14,179.07 265.01,179.36 266.87,179.65 268.74,179.94 270.61,180.23 272.47,180.52 274.34,180.82 276.20,181.11 278.07,181.40 279.94,181.69 281.80,181.98 283.67,182.27 285.54,182.56 287.40,182.85 289.27,183.15 291.13,183.44 293.00,183.73 294.87,184.02 296.73,184.31 298.60,184.60 300.47,184.89 302.33,185.19 304.20,185.48 306.06,185.77 307.93,186.06 309.80,186.35 311.66,186.65 313.53,186.94 315.40,187.23 317.26,187.52 319.13,187.82 321.00,188.11 322.86,188.40 324.73,188.69 326.59,188.99 328.46,189.28 330.33,189.57 332.19,189.86 334.06,190.16 335.93,190.45 337.79,190.74 339.66,191.04 341.52,191.33 343.39,191.62 345.26,191.92 347.12,192.21 348.99,192.51 350.86,192.80 352.72,193.10 354.59,193.39 356.45,193.69 358.32,193.98 360.19,194.28 362.05,194.57 363.92,194.87 365.79,195.16 367.65,195.46 369.52,195.76 371.38,196.05 373.25,196.35 375.12,196.65 376.98,196.95 378.85,197.24 380.72,197.54 382.58,197.84 384.45,198.14 386.31,198.44 388.18,198.74 390.05,199.04 391.91,199.34 393.78,199.64 395.65,199.95 397.51,200.25 399.38,200.55 401.25,200.86 403.11,201.16 404.98,201.46 406.84,201.77 408.71,202.08 410.58,202.38 412.44,202.69 414.31,203.00 416.18,203.31 418.04,203.62 419.91,203.93 421.77,204.24 423.64,204.55 425.51,204.87 427.37,205.18 429.24,205.50 431.11,205.81 432.97,206.13 434.84,206.45 436.70,206.77 438.57,207.09 440.44,207.41 442.30,207.74 444.17,208.06 446.04,208.39 447.90,208.72 449.77,209.05 451.63,209.38 453.50,209.71 455.37,210.05 457.23,210.38 459.10,210.72 460.97,211.06 462.83,211.40 464.70,211.75 466.56,212.09 468.43,212.44 470.30,212.79 472.16,213.14 474.03,213.50 475.90,213.86 477.76,214.22 479.63,214.58 481.49,214.94 483.36,215.31 485.23,215.68 487.09,216.05 488.96,216.43 490.83,216.81 492.69,217.19 494.56,217.57 496.43,217.96 498.29,218.35 500.16,218.74 502.02,219.13 503.89,219.53 505.76,219.94 507.62,220.34 509.49,220.75 511.36,221.16 513.22,221.58 515.09,221.99 516.95,222.42 518.82,222.84 520.69,223.27 522.55,223.70 524.42,224.14 526.29,224.57 528.15,225.01 530.02,225.46 531.88,225.91 533.75,226.36 535.62,226.81 537.48,227.27 539.35,227.73 541.22,228.20 543.08,228.67 544.95,229.14 546.81,229.61 548.68,230.09 550.55,230.57 552.41,231.05 554.28,231.54 556.15,232.03 558.01,232.52 559.88,233.02 561.74,233.51 563.61,234.01 565.48,234.52 567.34,235.02 569.21,235.53 571.08,236.04 572.94,236.55 574.81,237.07 576.68,237.59 578.54,238.11 580.41,238.63 582.27,239.15 584.14,239.68 586.01,240.21 587.87,240.74 589.74,241.27 591.61,241.81 593.47,242.34 595.34,242.88 597.20,243.42 599.07,243.96 600.94,244.50 602.80,245.05 604.67,245.59 606.54,246.14 608.40,246.69 610.27,247.24 612.13,247.79 614.00,248.34 615.87,248.89 617.73,249.45 619.60,250.00 621.47,250.56 623.33,251.11 625.20,251.67 627.06,252.23 628.93,252.79 630.80,253.35 632.66,253.92 634.53,254.48 636.40,255.04 638.26,255.61 640.13,256.17 641.99,256.74 643.86,257.30 645.73,257.87 647.59,258.44 649.46,259.00 651.33,259.57 653.19,260.14 655.06,260.71 656.93,261.28 658.79,261.85 660.66,262.42 662.52,262.99 664.39,263.56 666.26,264.14 668.12,264.71 669.99,265.28 671.86,265.85 673.72,266.43 675.59,267.00 677.45,267.57 679.32,268.15 681.19,268.72 683.05,269.30 684.92,269.87 686.79,270.45 688.65,271.02 690.52,271.60 692.38,272.17 694.25,272.75 696.12,273.32 697.98,273.90 699.85,274.47 701.72,275.05 703.58,275.63 705.45,276.20 707.31,276.78 709.18,277.35 711.05,277.93 712.91,278.51 714.78,279.08 716.65,279.66 718.51,280.24 720.38,280.81 722.24,281.39 724.11,281.96 725.98,282.54 727.84,283.12 729.71,283.69 731.58,284.27 733.44,284.84 735.31,285.42 737.17,286.00 739.04,286.57 740.91,287.15 742.77,287.72 744.64,288.30 746.51,288.87 748.37,289.45 750.24,290.02 752.11,290.60 753.97,291.17 755.84,291.75 757.70,292.32 759.57,292.89 761.44,293.47 763.30,294.04 765.17,294.61 767.04,295.19 768.90,295.76 770.77,296.33 772.63,296.90 774.50,297.47 776.37,298.04 778.23,298.61 780.10,299.18 781.97,299.75 783.83,300.32 785.70,300.89 787.56,301.46 789.43,302.03 791.30,302.59 793.16,303.16 795.03,303.72 796.90,304.29 798.76,304.85 800.63,305.42 802.49,305.98 804.36,306.54 806.23,307.10 808.09,307.66 809.96,308.22 811.83,308.78 813.69,309.34 815.56,309.89 817.42,310.45 819.29,311.00 821.16,311.56 823.02,312.11 824.89,312.66 826.76,313.21 828.62,313.76 830.49,314.30 832.36,314.85 834.22,315.39 836.09,315.94 837.95,316.48 839.82,317.02 841.69,317.55 843.55,318.09 845.42,318.62 847.29,319.16 849.15,319.69 851.02,320.22 852.88,320.74 854.75,321.27 856.62,321.79 858.48,322.31 860.35,322.83 862.22,323.34 864.08,323.86 865.95,324.37 867.81,324.87 869.68,325.38 871.55,325.88 873.41,326.38 875.28,326.88 877.15,327.38 879.01,327.87 880.88,328.36 882.74,328.84 884.61,329.33 886.48,329.81 888.34,330.29 890.21,330.76 892.08,331.23 893.94,331.70 895.81,332.16 897.67,332.63 899.54,333.08 901.41,333.54 903.27,333.99 905.14,334.44 907.01,334.88 908.87,335.33 910.74,335.76 912.61,336.20 914.47,336.63 916.34,337.06 918.20,337.48 920.07,337.91 921.94,338.32 923.80,338.74 925.67,339.15 927.54,339.56 929.40,339.96 931.27,340.37 933.13,340.77 935.00,341.16 936.87,341.55 938.73,341.94 940.60,342.33 942.47,342.71 944.33,343.10 946.20,343.47 948.06,343.85 949.93,344.22 951.80,344.59 953.66,344.96 955.53,345.32 957.40,345.69 959.26,346.05 961.13,346.40 962.99,346.76 964.86,347.11 966.73,347.46 968.59,347.81 970.46,348.15 972.33,348.50 974.19,348.84 976.06,349.18 977.92,349.52 979.79,349.86 981.66,350.19 983.52,350.52 985.39,350.86 987.26,351.19 989.12,351.51 990.99,351.84 992.85,352.17 994.72,352.49 996.59,352.81 998.45,353.13 1000.32,353.45 1002.19,353.77 1004.05,354.09 1005.92,354.41 1007.79,354.72 1009.65,355.04 1011.52,355.35 1013.38,355.66 1015.25,355.97 1017.12,356.29 1018.98,356.60 1020.85,356.90 1022.72,357.21 1024.58,357.52 1026.45,357.83 1028.31,358.13 1030.18,358.44 1032.05,358.74 1033.91,359.05 1035.78,359.35 1037.65,359.65 1039.51,359.96 1041.38,360.26 1043.24,360.56 1045.11,360.86 1046.98,361.16 1048.84,361.46 1050.71,361.76 1052.58,362.06 1054.44,362.36 1056.31,362.66 1058.17,362.96 1060.04,363.25 1061.91,363.55 1063.77,363.85 1065.64,364.15 1067.51,364.44 1069.37,364.74 1071.24,365.04 1073.10,365.33 1074.97,365.63 1076.84,365.92 1078.70,366.22 1080.57,366.51 1082.44,366.81 1084.30,367.10 1086.17,367.40 1088.04,367.69 1089.90,367.99 1091.77,368.28 1093.63,368.57 1095.50,368.87 1097.37,369.16 1099.23,369.45 1101.10,369.75 1102.97,370.04 1104.83,370.33 1106.70,370.63 1108.56,370.92 1110.43,371.21 1112.30,371.50 1114.16,371.80 1116.03,372.09 1117.90,372.38 1119.76,372.67 1121.63,372.97 1123.49,373.26 1125.36,373.55 1127.23,373.84 1129.09,374.13 1130.96,374.43 1132.83,374.72 1134.69,375.01 1136.56,375.30 1138.42,375.59 1140.29,375.88 1142.16,376.18 1144.02,376.47 1145.89,376.76 1147.76,377.05 1149.62,377.34 1151.49,377.63 1153.35,377.92 1155.22,378.21 1157.09,378.51 1158.95,378.80 1160.82,379.09 1162.69,379.38 1164.55,379.67 1166.42,379.96 1168.28,380.25 1170.15,380.54 1172.02,380.83 1173.88,381.13 1175.75,381.42 1177.62,381.71 1179.48,382.00 1181.35,382.29 1183.22,382.58 1185.08,382.87 1186.95,383.16 1188.81,383.45 1190.68,383.74 1192.55,384.03 1194.41,384.33 1196.28,384.62 1198.15,384.91 1200.01,385.20 1201.88,385.49 1203.74,385.78 1205.61,386.07 1207.48,386.36 1209.34,386.65 1211.21,386.94 1213.08,387.23 1214.94,387.52 1216.81,387.81 1218.67,388.11 1220.54,388.40 1222.41,388.69 1224.27,388.98 1226.14,389.27 1228.01,389.56 1229.87,389.85 1231.74,390.14 1233.60,390.43 1235.47,390.72 1237.34,391.01 1239.20,391.30 1241.07,391.59 1242.94,391.88 1244.80,392.17 1246.67,392.47 1248.53,392.76 1250.40,393.05 1252.27,393.34 1254.13,393.63 1256.00,393.92"/>
<polyline stroke="#85B445" points="138.10,130.59 139.97,130.88 141.83,131.17 143.70,131.46 145.57,131.75 147.43,132.04 149.30,132.33 151.16,132.62 153.03,132.91 154.90,133.20 156.76,133.49 158.63,133.78 160.50,134.07 162.36,134.36 164.23,134.65 166.09,134.94 167.96,135.24 169.83,135.53 171.69,135.82 173.56,136.11 175.43,136.40 177.29,136.69 179.16,136.98 181.02,137.27 182.89,137.56 184.76,137.85 186.62,138.14 188.49,138.43 190.36,138.72 192.22,139.01 194.09,139.30 195.95,139.59 197.82,139.88 199.69,140.18 201.55,140.47 203.42,140.76 205.29,141.05 207.15,141.34 209.02,141.63 210.88,141.92 212.75,142.21 214.62,142.50 216.48,142.79 218.35,143.08 220.22,143.37 222.08,143.66 223.95,143.95 225.82,144.25 227.68,144.54 229.55,144.83 231.41,145.12 233.28,145.41 235.15,145.70 237.01,145.99 238.88,146.28 240.75,146.57 242.61,146.86 244.48,147.15 246.34,147.44 248.21,147.73 250.08,148.03 251.94,148.32 253.81,148.61 255.68,148.90 257.54,149.19 259.41,149.48 261.27,149.77 263.14,150.06 265.01,150.35 266.87,150.64 268.74,150.94 270.61,151.23 272.47,151.52 274.34,151.81 276.20,152.10 278.07,152.39 279.94,152.68 281.80,152.97 283.67,153.26 285.54,153.56 287.40,153.85 289.27,154.14 291.13,154.43 293.00,154.72 294.87,155.01 296.73,155.30 298.60,155.60 300.47,155.89 302.33,156.18 304.20,156.47 306.06,156.76 307.93,157.06 309.80,157.35 311.66,157.64 313.53,157.93 315.40,158.22 317.26,158.52 319.13,158.81 321.00,159.10 322.86,159.39 324.73,159.69 326.59,159.98 328.46,160.27 330.33,160.56 332.19,160.86 334.06,161.15 335.93,161.44 337.79,161.74 339.66,162.03 341.52,162.32 343.39,162.62 345.26,162.91 347.12,163.21 348.99,163.50 350.86,163.79 352.72,164.09 354.59,164.38 356.45,164.68 358.32,164.97 360.19,165.27 362.05,165.57 363.92,165.86 365.79,166.16 367.65,166.45 369.52,166.75 371.38,167.05 373.25,167.34 375.12,167.64 376.98,167.94 378.85,168.24 380.72,168.54 382.58,168.84 384.45,169.14 386.31,169.43 388.18,169.73 390.05,170.04 391.91,170.34 393.78,170.64 395.65,170.94 397.51,171.24 399.38,171.55 401.25,171.85 403.11,172.15 404.98,172.46 406.84,172.76 408.71,173.07 410.58,173.38 412.44,173.68 414.31,173.99 416.18,174.30 418.04,174.61 419.91,174.92 421.77,175.23 423.64,175.55 425.51,175.86 427.37,176.17 429.24,176.49 431.11,176.81 432.97,177.12 434.84,177.44 436.70,177.76 438.57,178.08 440.44,178.41 442.30,178.73 444.17,179.06 446.04,179.38 447.90,179.71 449.77,180.04 451.63,180.37 453.50,180.70 455.37,181.04 457.23,181.38 459.10,181.71 460.97,182.05 462.83,182.40 464.70,182.74 466.56,183.09 468.43,183.43 470.30,183.79 472.16,184.14 474.03,184.49 475.90,184.85 477.76,185.21 479.63,185.57 481.49,185.94 483.36,186.30 485.23,186.67 487.09,187.05 488.96,187.42 490.83,187.80 492.69,188.18 494.56,188.56 496.43,188.95 498.29,189.34 500.16,189.73 502.02,190.13 503.89,190.53 505.76,190.93 507.62,191.33 509.49,191.74 511.36,192.15 513.22,192.57 515.09,192.99 516.95,193.41 518.82,193.83 520.69,194.26 522.55,194.69 524.42,195.13 526.29,195.57 528.15,196.01 530.02,196.45 531.88,196.90 533.75,197.35 535.62,197.81 537.48,198.27 539.35,198.73 541.22,199.19 543.08,199.66 544.95,200.13 546.81,200.61 548.68,201.08 550.55,201.56 552.41,202.05 554.28,202.53 556.15,203.02 558.01,203.51 559.88,204.01 561.74,204.51 563.61,205.01 565.48,205.51 567.34,206.02 569.21,206.52 571.08,207.04 572.94,207.55 574.81,208.06 576.68,208.58 578.54,209.10 580.41,209.62 582.27,210.15 584.14,210.68 586.01,211.20 587.87,211.73 589.74,212.27 591.61,212.80 593.47,213.34 595.34,213.87 597.20,214.41 599.07,214.96 600.94,215.50 602.80,216.04 604.67,216.59 606.54,217.13 608.40,217.68 610.27,218.23 612.13,218.78 614.00,219.34 615.87,219.89 617.73,220.44 619.60,221.00 621.47,221.56 623.33,222.11 625.20,222.67 627.06,223.23 628.93,223.79 630.80,224.35 632.66,224.91 634.53,225.48 636.40,226.04 638.26,226.61 640.13,227.17 641.99,227.74 643.86,228.30 645.73,228.87 647.59,229.44 649.46,230.01 651.33,230.58 653.19,231.14 655.06,231.71 656.93,232.28 658.79,232.86 660.66,233.43 662.52,234.00 664.39,234.57 666.26,235.14 668.12,235.72 669.99,236.29 671.86,236.86 673.72,237.44 675.59,238.01 677.45,238.59 679.32,239.16 681.19,239.73 683.05,240.31 684.92,240.89 686.79,241.46 688.65,242.04 690.52,242.61 692.38,243.19 694.25,243.77 696.12,244.34 697.98,244.92 699.85,245.50 701.72,246.07 703.58,246.65 705.45,247.23 707.31,247.81 709.18,248.39 711.05,248.96 712.91,249.54 714.78,250.12 716.65,250.70 718.51,251.28 720.38,251.86 722.24,252.43 724.11,253.01 725.98,253.59 727.84,254.17 729.71,254.75 731.58,255.33 733.44,255.91 735.31,256.49 737.17,257.07 739.04,257.64 740.91,258.22 742.77,258.80 744.64,259.38 746.51,259.96 748.37,260.54 750.24,261.12 752.11,261.70 753.97,262.28 755.84,262.86 757.70,263.44 759.57,264.02 761.44,264.60 763.30,265.18 765.17,265.76 767.04,266.34 768.90,266.92 770.77,267.50 772.63,268.08 774.50,268.66 776.37,269.23 778.23,269.81 780.10,270.39 781.97,270.97 783.83,271.55 785.70,272.13 787.56,272.71 789.43,273.29 791.30,273.87 793.16,274.45 795.03,275.03 796.90,275.61 798.76,276.19 800.63,276.77 802.49,277.34 804.36,277.92 806.23,278.50 808.09,279.08 809.96,279.66 811.83,280.24 813.69,280.82 815.56,281.39 817.42,281.97 819.29,282.55 821.16,283.13 823.02,283.71 824.89,284.28 826.76,284.86 828.62,285.44 830.49,286.01 832.36,286.59 834.22,287.17 836.09,287.75 837.95,288.32 839.82,288.90 841.69,289.47 843.55,290.05 845.42,290.62 847.29,291.20 849.15,291.77 851.02,292.35 852.88,292.92 854.75,293.50 856.62,294.07 858.48,294.65 860.35,295.22 862.22,295.79 864.08,296.36 865.95,296.94 867.81,297.51 869.68,298.08 871.55,298.65 873.41,299.22 875.28,299.79 877.15,300.36 879.01,300.93 880.88,301.50 882.74,302.06 884.61,302.63 886.48,303.20 888.34,303.76 890.21,304.33 892.08,304.89 893.94,305.45 895.81,306.02 897.67,306.58 899.54,307.14 901.41,307.70 903.27,308.26 905.14,308.82 907.01,309.38 908.87,309.93 910.74,310.49 912.61,311.04 914.47,311.60 916.34,312.15 918.20,312.70 920.07,313.25 921.94,313.80 923.80,314.34 925.67,314.89 927.54,315.43 929.40,315.97 931.27,316.51 933.13,317.05 935.00,317.59 936.87,318.13 938.73,318.66 940.60,319.19 942.47,319.72 944.33,320.25 946.20,320.78 948.06,321.30 949.93,321.82 951.80,322.34 953.66,322.86 955.53,323.38 957.40,323.89 959.26,324.40 961.13,324.91 962.99,325.41 964.86,325.91 966.73,326.41 968.59,326.91 970.46,327.41 972.33,327.90 974.19,328.39 976.06,328.87 977.92,329.35 979.79,329.83 981.66,330.31 983.52,330.79 985.39,331.26 987.26,331.72 989.12,332.19 990.99,332.65 992.85,333.11 994.72,333.56 996.59,334.01 998.45,334.46 1000.32,334.90 1002.19,335.34 1004.05,335.78 1005.92,336.22 1007.79,336.65 1009.65,337.07 1011.52,337.50 1013.38,337.92 1015.25,338.34 1017.12,338.75 1018.98,339.16 1020.85,339.57 1022.72,339.98 1024.58,340.38 1026.45,340.78 1028.31,341.17 1030.18,341.56 1032.05,341.95 1033.91,342.34 1035.78,342.72 1037.65,343.10 1039.51,343.48 1041.38,343.85 1043.24,344.23 1045.11,344.60 1046.98,344.96 1048.84,345.33 1050.71,345.69 1052.58,346.05 1054.44,346.40 1056.31,346.76 1058.17,347.11 1060.04,347.46 1061.91,347.81 1063.77,348.15 1065.64,348.50 1067.51,348.84 1069.37,349.18 1071.24,349.52 1073.10,349.85 1074.97,350.19 1076.84,350.52 1078.70,350.85 1080.57,351.18 1082.44,351.51 1084.30,351.84 1086.17,352.16 1088.04,352.48 1089.90,352.81 1091.77,353.13 1093.63,353.45 1095.50,353.77 1097.37,354.08 1099.23,354.40 1101.10,354.72 1102.97,355.03 1104.83,355.34 1106.70,355.66 1108.56,355.97 1110.43,356.28 1112.30,356.59 1114.16,356.90 1116.03,357.20 1117.90,357.51 1119.76,357.82 1121.63,358.12 1123.49,358.43 1125.36,358.73 1127.23,359.04 1129.09,359.34 1130.96,359.64 1132.83,359.95 1134.69,360.25 1136.56,360.55 1138.42,360.85 1140.29,361.15 1142.16,361.45 1144.02,361.75 1145.89,362.05 1147.76,362.35 1149.62,362.65 1151.49,362.95 1153.35,363.24 1155.22,363.54 1157.09,363.84 1158.95,364.14 1160.82,364.43 1162.69,364.73 1164.55,365.02 1166.42,365.32 1168.28,365.62 1170.15,365.91 1172.02,366.21 1173.88,366.50 1175.75,366.80 1177.62,367.09 1179.48,367.39 1181.35,367.68 1183.22,367.97 1185.08,368.27 1186.95,368.56 1188.81,368.86 1190.68,369.15 1192.55,369.44 1194.41,369.74 1196.28,370.03 1198.15,370.32 1200.01,370.61 1201.88,370.91 1203.74,371.20 1205.61,371.49 1207.48,371.78 1209.34,372.08 1211.21,372.37 1213.08,372.66 1214.94,372.95 1216.81,373.25 1218.67,373.54 1220.54,373.83 1222.41,374.12 1224.27,374.41 1226.14,374.71 1228.01,375.00 1229.87,375.29 1231.74,375.58 1233.60,375.87 1235.47,376.16 1237.34,376.45 1239.20,376.75 1241.07,377.04 1242.94,377.33 1244.80,377.62 1246.67,377.91 1248.53,378.20 1250.40,378.49 1252.27,378.79 1254.13,379.08 1256.00,379.37"/>
</g>
<g stroke="#000" stroke-opacity="0.17" stroke-width="2" stroke-dasharray="2 6.45" fill="none">
<line x1="194.19" y1="527.85" x2="194.19" y2="909.60"/>
<line x1="227.00" y1="527.85" x2="227.00" y2="909.60"/>
<line x1="250.27" y1="527.85" x2="250.27" y2="909.60"/>
<line x1="268.33" y1="527.85" x2="268.33" y2="909.60"/>
<line x1="283.08" y1="527.85" x2="283.08" y2="909.60"/>
<line x1="295.56" y1="527.85" x2="295.56" y2="909.60"/>
<line x1="306.36" y1="527.85" x2="306.36" y2="909.60"/>
<line x1="315.89" y1="527.85" x2="315.89" y2="909.60"/>
<line x1="380.50" y1="527.85" x2="380.50" y2="909.60"/>
<line x1="413.31" y1="527.85" x2="413.31" y2="909.60"/>
<line x1="436.59" y1="527.85" x2="436.59" y2="909.60"/>
<line x1="454.65" y1="527.85" x2="454.65" y2="909.60"/>
<line x1="469.40" y1="527.85" x2="469.40" y2="909.60"/>
<line x1="481.87" y1="527.85" x2="481.87" y2="909.60"/>
<line x1="492.68" y1="527.85" x2="492.68" y2="909.60"/>
<line x1="502.21" y1="527.85" x2="502.21" y2="909.60"/>
<line x1="566.82" y1="527.85" x2="566.82" y2="909.60"/>
<line x1="599.63" y1="527.85" x2="599.63" y2="909.60"/>
<line x1="622.91" y1="527.85" x2="622.91" y2="909.60"/>
<line x1="640.96" y1="527.85" x2="640.96" y2="909.60"/>
<line x1="655.72" y1="527.85" x2="655.72" y2="909.60"/>
<line x1="668.19" y1="527.85" x2="668.19" y2="909.60"/>
<line x1="678.99" y1="527.85" x2="678.99" y2="909.60"/>
<line x1="688.52" y1="527.85" x2="688.52" y2="909.60"/>
<line x1="753.14" y1="527.85" x2="753.14" y2="909.60"/>
<line x1="785.95" y1="527.85" x2="785.95" y2="909.60"/>
<line x1="809.22" y1="527.85" x2="809.22" y2="909.60"/>
<line x1="827.28" y1="527.85" x2="827.28" y2="909.60"/>
<line x1="842.03" y1="527.85" x2="842.03" y2="909.60"/>
<line x1="854.51" y1="527.85" x2="854.51" y2="909.60"/>
<line x1="865.31" y1="527.85" x2="865.31" y2="909.60"/>
<line x1="874.84" y1="527.85" x2="874.84" y2="909.60"/>
<line x1="939.45" y1="527.85" x2="939.45" y2="909.60"/>
<line x1="972.26" y1="527.85" x2="972.26" y2="909.60"/>
<line x1="995.54" y1="527.85" x2="995.54" y2="909.60"/>
<line x1="1013.60" y1="527.85" x2="1013.60" y2="909.60"/>
<line x1="1028.35" y1="527.85" x2="1028.35" y2="909.60"/>
<line x1="1040.82" y1="527.85" x2="1040.82" y2="909.60"/>
<line x1="1051.63" y1="527.85" x2="1051.63" y2="909.60"/>
<line x1="1061.16" y1="527.85" x2="1061.16" y2="909.60"/>
<line x1="1125.77" y1="527.85" x2="1125.77" y2="909.60"/>
<line x1="1158.58" y1="527.85" x2="1158.58" y2="909.60"/>
<line x1="1181.86" y1="527.85" x2="1181.86" y2="909.60"/>
<line x1="1199.91" y1="527.85" x2="1199.91" y2="909.60"/>
<line x1="1214.67" y1="527.85" x2="1214.67" y2="909.60"/>
<line x1="1227.14" y1="527.85" x2="1227.14" y2="909.60"/>
<line x1="1237.94" y1="527.85" x2="1237.94" y2="909.60"/>
<line x1="1247.47" y1="527.85" x2="1247.47" y2="909.60"/>
</g>
<g stroke="#262626" stroke-opacity="0.15" stroke-width="1.9" fill="none">
<line x1="324.42" y1="525.6" x2="324.42" y2="909.6"/>
<line x1="510.73" y1="525.6" x2="510.73" y2="909.6"/>
<line x1="697.05" y1="525.6" x2="697.05" y2="909.6"/>
<line x1="883.37" y1="525.6" x2="883.37" y2="909.6"/>
<line x1="1069.68" y1="525.6" x2="1069.68" y2="909.6"/>
<line x1="138.1" y1="529.20" x2="1256.0" y2="529.20"/>
<line x1="138.1" y1="654.90" x2="1256.0" y2="654.90"/>
<line x1="138.1" y1="780.60" x2="1256.0" y2="780.60"/>
<line x1="138.1" y1="906.30" x2="1256.0" y2="906.30"/>
</g>
<g stroke="#707070" stroke-width="2.3" fill="none">
<line x1="194.19" y1="525.6" x2="194.19" y2="531.90"/>
<line x1="194.19" y1="909.6" x2="194.19" y2="903.30"/>
<line x1="227.00" y1="525.6" x2="227.00" y2="531.90"/>
<line x1="227.00" y1="909.6" x2="227.00" y2="903.30"/>
<line x1="250.27" y1="525.6" x2="250.27" y2="531.90"/>
<line x1="250.27" y1="909.6" x2="250.27" y2="903.30"/>
<line x1="268.33" y1="525.6" x2="268.33" y2="531.90"/>
<line x1="268.33" y1="909.6" x2="268.33" y2="903.30"/>
<line x1="283.08" y1="525.6" x2="283.08" y2="531.90"/>
<line x1="283.08" y1="909.6" x2="283.08" y2="903.30"/>
<line x1="295.56" y1="525.6" x2="295.56" y2="531.90"/>
<line x1="295.56" y1="909.6" x2="295.56" y2="903.30"/>
<line x1="306.36" y1="525.6" x2="306.36" y2="531.90"/>
<line x1="306.36" y1="909.6" x2="306.36" y2="903.30"/>
<line x1="315.89" y1="525.6" x2="315.89" y2="531.90"/>
<line x1="315.89" y1="909.6" x2="315.89" y2="903.30"/>
<line x1="324.42" y1="525.6" x2="324.42" y2="537.60"/>
<line x1="324.42" y1="909.6" x2="324.42" y2="897.60"/>
<line x1="380.50" y1="525.6" x2="380.50" y2="531.90"/>
<line x1="380.50" y1="909.6" x2="380.50" y2="903.30"/>
<line x1="413.31" y1="525.6" x2="413.31" y2="531.90"/>
<line x1="413.31" y1="909.6" x2="413.31" y2="903.30"/>
<line x1="436.59" y1="525.6" x2="436.59" y2="531.90"/>
<line x1="436.59" y1="909.6" x2="436.59" y2="903.30"/>
<line x1="454.65" y1="525.6" x2="454.65" y2="531.90"/>
<line x1="454.65" y1="909.6" x2="454.65" y2="903.30"/>
<line x1="469.40" y1="525.6" x2="469.40" y2="531.90"/>
<line x1="469.40" y1="909.6" x2="469.40" y2="903.30"/>
<line x1="481.87" y1="525.6" x2="481.87" y2="531.90"/>
<line x1="481.87" y1="909.6" x2="481.87" y2="903.30"/>
<line x1="492.68" y1="525.6" x2="492.68" y2="531.90"/>
<line x1="492.68" y1="909.6" x2="492.68" y2="903.30"/>
<line x1="502.21" y1="525.6" x2="502.21" y2="531.90"/>
<line x1="502.21" y1="909.6" x2="502.21" y2="903.30"/>
<line x1="510.73" y1="525.6" x2="510.73" y2="537.60"/>
<line x1="510.73" y1="909.6" x2="510.73" y2="897.60"/>
<line x1="566.82" y1="525.6" x2="566.82" y2="531.90"/>
<line x1="566.82" y1="909.6" x2="566.82" y2="903.30"/>
<line x1="599.63" y1="525.6" x2="599.63" y2="531.90"/>
<line x1="599.63" y1="909.6" x2="599.63" y2="903.30"/>
<line x1="622.91" y1="525.6" x2="622.91" y2="531.90"/>
<line x1="622.91" y1="909.6" x2="622.91" y2="903.30"/>
<line x1="640.96" y1="525.6" x2="640.96" y2="531.90"/>
<line x1="640.96" y1="909.6" x2="640.96" y2="903.30"/>
<line x1="655.72" y1="525.6" x2="655.72" y2="531.90"/>
<line x1="655.72" y1="909.6" x2="655.72" y2="903.30"/>
<line x1="668.19" y1="525.6" x2="668.19" y2="531.90"/>
<line x1="668.19" y1="909.6" x2="668.19" y2="903.30"/>
<line x1="678.99" y1="525.6" x2="678.99" y2="531.90"/>
<line x1="678.99" y1="909.6" x2="678.99" y2="903.30"/>
<line x1="688.52" y1="525.6" x2="688.52" y2="531.90"/>
<line x1="688.52" y1="909.6" x2="688.52" y2="903.30"/>
<line x1="697.05" y1="525.6" x2="697.05" y2="537.60"/>
<line x1="697.05" y1="909.6" x2="697.05" y2="897.60"/>
<line x1="753.14" y1="525.6" x2="753.14" y2="531.90"/>
<line x1="753.14" y1="909.6" x2="753.14" y2="903.30"/>
<line x1="785.95" y1="525.6" x2="785.95" y2="531.90"/>
<line x1="785.95" y1="909.6" x2="785.95" y2="903.30"/>
<line x1="809.22" y1="525.6" x2="809.22" y2="531.90"/>
<line x1="809.22" y1="909.6" x2="809.22" y2="903.30"/>
<line x1="827.28" y1="525.6" x2="827.28" y2="531.90"/>
<line x1="827.28" y1="909.6" x2="827.28" y2="903.30"/>
<line x1="842.03" y1="525.6" x2="842.03" y2="531.90"/>
<line x1="842.03" y1="909.6" x2="842.03" y2="903.30"/>
<line x1="854.51" y1="525.6" x2="854.51" y2="531.90"/>
<line x1="854.51" y1="909.6" x2="854.51" y2="903.30"/>
<line x1="865.31" y1="525.6" x2="865.31" y2="531.90"/>
<line x1="865.31" y1="909.6" x2="865.31" y2="903.30"/>
<line x1="874.84" y1="525.6" x2="874.84" y2="531.90"/>
<line x1="874.84" y1="909.6" x2="874.84" y2="903.30"/>
<line x1="883.37" y1="525.6" x2="883.37" y2="537.60"/>
<line x1="883.37" y1="909.6" x2="883.37" y2="897.60"/>
<line x1="939.45" y1="525.6" x2="939.45" y2="531.90"/>
<line x1="939.45" y1="909.6" x2="939.45" y2="903.30"/>
<line x1="972.26" y1="525.6" x2="972.26" y2="531.90"/>
<line x1="972.26" y1="909.6" x2="972.26" y2="903.30"/>
<line x1="995.54" y1="525.6" x2="995.54" y2="531.90"/>
<line x1="995.54" y1="909.6" x2="995.54" y2="903.30"/>
<line x1="1013.60" y1="525.6" x2="1013.60" y2="531.90"/>
<line x1="1013.60" y1="909.6" x2="1013.60" y2="903.30"/>
<line x1="1028.35" y1="525.6" x2="1028.35" y2="531.90"/>
<line x1="1028.35" y1="909.6" x2="1028.35" y2="903.30"/>
<line x1="1040.82" y1="525.6" x2="1040.82" y2="531.90"/>
<line x1="1040.82" y1="909.6" x2="1040.82" y2="903.30"/>
<line x1="1051.63" y1="525.6" x2="1051.63" y2="531.90"/>
<line x1="1051.63" y1="909.6" x2="1051.63" y2="903.30"/>
<line x1="1061.16" y1="525.6" x2="1061.16" y2="531.90"/>
<line x1="1061.16" y1="909.6" x2="1061.16" y2="903.30"/>
<line x1="1069.68" y1="525.6" x2="1069.68" y2="537.60"/>
<line x1="1069.68" y1="909.6" x2="1069.68" y2="897.60"/>
<line x1="1125.77" y1="525.6" x2="1125.77" y2="531.90"/>
<line x1="1125.77" y1="909.6" x2="1125.77" y2="903.30"/>
<line x1="1158.58" y1="525.6" x2="1158.58" y2="531.90"/>
<line x1="1158.58" y1="909.6" x2="1158.58" y2="903.30"/>
<line x1="1181.86" y1="525.6" x2="1181.86" y2="531.90"/>
<line x1="1181.86" y1="909.6" x2="1181.86" y2="903.30"/>
<line x1="1199.91" y1="525.6" x2="1199.91" y2="531.90"/>
<line x1="1199.91" y1="909.6" x2="1199.91" y2="903.30"/>
<line x1="1214.67" y1="525.6" x2="1214.67" y2="531.90"/>
<line x1="1214.67" y1="909.6" x2="1214.67" y2="903.30"/>
<line x1="1227.14" y1="525.6" x2="1227.14" y2="531.90"/>
<line x1="1227.14" y1="909.6" x2="1227.14" y2="903.30"/>
<line x1="1237.94" y1="525.6" x2="1237.94" y2="531.90"/>
<line x1="1237.94" y1="909.6" x2="1237.94" y2="903.30"/>
<line x1="1247.47" y1="525.6" x2="1247.47" y2="531.90"/>
<line x1="1247.47" y1="909.6" x2="1247.47" y2="903.30"/>
<line x1="138.1" y1="529.20" x2="149.79999999999998" y2="529.20"/>
<line x1="1256.0" y1="529.20" x2="1244.3" y2="529.20"/>
<line x1="138.1" y1="654.90" x2="149.79999999999998" y2="654.90"/>
<line x1="1256.0" y1="654.90" x2="1244.3" y2="654.90"/>
<line x1="138.1" y1="780.60" x2="149.79999999999998" y2="780.60"/>
<line x1="1256.0" y1="780.60" x2="1244.3" y2="780.60"/>
<line x1="138.1" y1="906.30" x2="149.79999999999998" y2="906.30"/>
<line x1="1256.0" y1="906.30" x2="1244.3" y2="906.30"/>
</g>
<rect x="138.1" y="525.6" width="1117.9" height="384.0" fill="none" stroke="#707070" stroke-width="2.5"/>
<g clip-path="url(#c2)" fill="none" stroke-width="2.1" stroke-linejoin="round">
<polyline stroke="#1A80C4" points="138.10,531.27 139.97,531.31 141.83,531.34 143.70,531.38 145.57,531.42 147.43,531.46 149.30,531.50 151.16,531.54 153.03,531.59 154.90,531.63 156.76,531.68 158.63,531.72 160.50,531.77 162.36,531.82 164.23,531.87 166.09,531.92 167.96,531.97 169.83,532.02 171.69,532.08 173.56,532.13 175.43,532.19 177.29,532.25 179.16,532.31 181.02,532.37 182.89,532.43 184.76,532.49 186.62,532.56 188.49,532.62 190.36,532.69 192.22,532.76 194.09,532.83 195.95,532.91 197.82,532.98 199.69,533.06 201.55,533.14 203.42,533.22 205.29,533.30 207.15,533.38 209.02,533.47 210.88,533.56 212.75,533.65 214.62,533.74 216.48,533.83 218.35,533.93 220.22,534.03 222.08,534.13 223.95,534.23 225.82,534.34 227.68,534.45 229.55,534.56 231.41,534.67 233.28,534.79 235.15,534.91 237.01,535.03 238.88,535.15 240.75,535.28 242.61,535.41 244.48,535.54 246.34,535.68 248.21,535.82 250.08,535.96 251.94,536.10 253.81,536.25 255.68,536.41 257.54,536.56 259.41,536.72 261.27,536.89 263.14,537.05 265.01,537.23 266.87,537.40 268.74,537.58 270.61,537.76 272.47,537.95 274.34,538.14 276.20,538.34 278.07,538.54 279.94,538.75 281.80,538.96 283.67,539.17 285.54,539.39 287.40,539.62 289.27,539.85 291.13,540.09 293.00,540.33 294.87,540.58 296.73,540.83 298.60,541.09 300.47,541.35 302.33,541.62 304.20,541.90 306.06,542.18 307.93,542.47 309.80,542.77 311.66,543.07 313.53,543.39 315.40,543.70 317.26,544.03 319.13,544.36 321.00,544.70 322.86,545.05 324.73,545.40 326.59,545.77 328.46,546.14 330.33,546.52 332.19,546.91 334.06,547.31 335.93,547.72 337.79,548.13 339.66,548.56 341.52,549.00 343.39,549.44 345.26,549.90 347.12,550.37 348.99,550.84 350.86,551.33 352.72,551.83 354.59,552.34 356.45,552.86 358.32,553.39 360.19,553.94 362.05,554.49 363.92,555.06 365.79,555.65 367.65,556.24 369.52,556.85 371.38,557.47 373.25,558.10 375.12,558.75 376.98,559.42 378.85,560.09 380.72,560.79 382.58,561.49 384.45,562.21 386.31,562.95 388.18,563.71 390.05,564.48 391.91,565.26 393.78,566.06 395.65,566.88 397.51,567.72 399.38,568.57 401.25,569.45 403.11,570.33 404.98,571.24 406.84,572.17 408.71,573.11 410.58,574.08 412.44,575.06 414.31,576.06 416.18,577.08 418.04,578.12 419.91,579.18 421.77,580.26 423.64,581.37 425.51,582.49 427.37,583.63 429.24,584.79 431.11,585.98 432.97,587.18 434.84,588.41 436.70,589.65 438.57,590.92 440.44,592.21 442.30,593.52 444.17,594.85 446.04,596.20 447.90,597.58 449.77,598.97 451.63,600.38 453.50,601.82 455.37,603.27 457.23,604.74 459.10,606.24 460.97,607.75 462.83,609.28 464.70,610.83 466.56,612.39 468.43,613.98 470.30,615.58 472.16,617.19 474.03,618.82 475.90,620.46 477.76,622.12 479.63,623.79 481.49,625.47 483.36,627.16 485.23,628.87 487.09,630.58 488.96,632.29 490.83,634.02 492.69,635.74 494.56,637.47 496.43,639.21 498.29,640.94 500.16,642.67 502.02,644.40 503.89,646.13 505.76,647.85 507.62,649.56 509.49,651.26 511.36,652.96 513.22,654.64 515.09,656.30 516.95,657.95 518.82,659.58 520.69,661.19 522.55,662.78 524.42,664.35 526.29,665.89 528.15,667.40 530.02,668.88 531.88,670.34 533.75,671.76 535.62,673.14 537.48,674.49 539.35,675.80 541.22,677.07 543.08,678.30 544.95,679.48 546.81,680.62 548.68,681.72 550.55,682.76 552.41,683.76 554.28,684.71 556.15,685.60 558.01,686.44 559.88,687.23 561.74,687.96 563.61,688.63 565.48,689.25 567.34,689.81 569.21,690.31 571.08,690.75 572.94,691.12 574.81,691.44 576.68,691.70 578.54,691.89 580.41,692.03 582.27,692.10 584.14,692.11 586.01,692.05 587.87,691.94 589.74,691.76 591.61,691.52 593.47,691.22 595.34,690.85 597.20,690.43 599.07,689.95 600.94,689.40 602.80,688.80 604.67,688.14 606.54,687.43 608.40,686.66 610.27,685.83 612.13,684.95 614.00,684.02 615.87,683.04 617.73,682.00 619.60,680.92 621.47,679.79 623.33,678.62 625.20,677.40 627.06,676.15 628.93,674.85 630.80,673.51 632.66,672.13 634.53,670.72 636.40,669.28 638.26,667.80 640.13,666.30 641.99,664.76 643.86,663.20 645.73,661.62 647.59,660.02 649.46,658.39 651.33,656.75 653.19,655.08 655.06,653.41 656.93,651.72 658.79,650.02 660.66,648.31 662.52,646.59 664.39,644.87 666.26,643.14 668.12,641.40 669.99,639.67 671.86,637.94 673.72,636.21 675.59,634.48 677.45,632.75 679.32,631.04 681.19,629.32 683.05,627.62 684.92,625.93 686.79,624.24 688.65,622.57 690.52,620.91 692.38,619.26 694.25,617.63 696.12,616.01 697.98,614.40 699.85,612.82 701.72,611.25 703.58,609.69 705.45,608.16 707.31,606.64 709.18,605.14 711.05,603.66 712.91,602.21 714.78,600.77 716.65,599.35 718.51,597.95 720.38,596.57 722.24,595.21 724.11,593.88 725.98,592.56 727.84,591.27 729.71,589.99 731.58,588.74 733.44,587.51 735.31,586.30 737.17,585.11 739.04,583.94 740.91,582.79 742.77,581.66 744.64,580.56 746.51,579.47 748.37,578.41 750.24,577.36 752.11,576.33 753.97,575.33 755.84,574.34 757.70,573.37 759.57,572.42 761.44,571.49 763.30,570.58 765.17,569.68 767.04,568.81 768.90,567.95 770.77,567.11 772.63,566.28 774.50,565.48 776.37,564.69 778.23,563.91 780.10,563.15 781.97,562.41 783.83,561.69 785.70,560.97 787.56,560.28 789.43,559.60 791.30,558.93 793.16,558.28 795.03,557.64 796.90,557.01 798.76,556.40 800.63,555.80 802.49,555.22 804.36,554.65 806.23,554.09 808.09,553.54 809.96,553.00 811.83,552.48 813.69,551.96 815.56,551.46 817.42,550.97 819.29,550.49 821.16,550.02 823.02,549.56 824.89,549.12 826.76,548.68 828.62,548.25 830.49,547.83 832.36,547.42 834.22,547.02 836.09,546.63 837.95,546.24 839.82,545.87 841.69,545.50 843.55,545.14 845.42,544.79 847.29,544.45 849.15,544.12 851.02,543.79 852.88,543.47 854.75,543.16 856.62,542.85 858.48,542.55 860.35,542.26 862.22,541.98 864.08,541.70 865.95,541.42 867.81,541.16 869.68,540.90 871.55,540.64 873.41,540.39 875.28,540.15 877.15,539.91 879.01,539.68 880.88,539.45 882.74,539.23 884.61,539.02 886.48,538.80 888.34,538.60 890.21,538.39 892.08,538.20 893.94,538.00 895.81,537.81 897.67,537.63 899.54,537.45 901.41,537.27 903.27,537.10 905.14,536.93 907.01,536.77 908.87,536.61 910.74,536.45 912.61,536.29 914.47,536.14 916.34,536.00 918.20,535.85 920.07,535.71 921.94,535.58 923.80,535.44 925.67,535.31 927.54,535.18 929.40,535.06 931.27,534.94 933.13,534.82 935.00,534.70 936.87,534.59 938.73,534.48 940.60,534.37 942.47,534.26 944.33,534.16 946.20,534.06 948.06,533.96 949.93,533.86 951.80,533.76 953.66,533.67 955.53,533.58 957.40,533.49 959.26,533.41 961.13,533.32 962.99,533.24 964.86,533.16 966.73,533.08 968.59,533.00 970.46,532.93 972.33,532.85 974.19,532.78 976.06,532.71 977.92,532.64 979.79,532.58 981.66,532.51 983.52,532.45 985.39,532.38 987.26,532.32 989.12,532.26 990.99,532.20 992.85,532.15 994.72,532.09 996.59,532.04 998.45,531.98 1000.32,531.93 1002.19,531.88 1004.05,531.83 1005.92,531.78 1007.79,531.73 1009.65,531.69 1011.52,531.64 1013.38,531.60 1015.25,531.56 1017.12,531.51 1018.98,531.47 1020.85,531.43 1022.72,531.39 1024.58,531.35 1026.45,531.32 1028.31,531.28 1030.18,531.24 1032.05,531.21 1033.91,531.17 1035.78,531.14 1037.65,531.11 1039.51,531.07 1041.38,531.04 1043.24,531.01 1045.11,530.98 1046.98,530.95 1048.84,530.93 1050.71,530.90 1052.58,530.87 1054.44,530.84 1056.31,530.82 1058.17,530.79 1060.04,530.77 1061.91,530.74 1063.77,530.72 1065.64,530.70 1067.51,530.67 1069.37,530.65 1071.24,530.63 1073.10,530.61 1074.97,530.59 1076.84,530.57 1078.70,530.55 1080.57,530.53 1082.44,530.51 1084.30,530.49 1086.17,530.47 1088.04,530.45 1089.90,530.44 1091.77,530.42 1093.63,530.40 1095.50,530.39 1097.37,530.37 1099.23,530.36 1101.10,530.34 1102.97,530.33 1104.83,530.31 1106.70,530.30 1108.56,530.29 1110.43,530.27 1112.30,530.26 1114.16,530.25 1116.03,530.23 1117.90,530.22 1119.76,530.21 1121.63,530.20 1123.49,530.19 1125.36,530.18 1127.23,530.17 1129.09,530.15 1130.96,530.14 1132.83,530.13 1134.69,530.12 1136.56,530.11 1138.42,530.10 1140.29,530.10 1142.16,530.09 1144.02,530.08 1145.89,530.07 1147.76,530.06 1149.62,530.05 1151.49,530.04 1153.35,530.04 1155.22,530.03 1157.09,530.02 1158.95,530.01 1160.82,530.01 1162.69,530.00 1164.55,529.99 1166.42,529.99 1168.28,529.98 1170.15,529.97 1172.02,529.97 1173.88,529.96 1175.75,529.96 1177.62,529.95 1179.48,529.94 1181.35,529.94 1183.22,529.93 1185.08,529.93 1186.95,529.92 1188.81,529.92 1190.68,529.91 1192.55,529.91 1194.41,529.90 1196.28,529.90 1198.15,529.89 1200.01,529.89 1201.88,529.88 1203.74,529.88 1205.61,529.88 1207.48,529.87 1209.34,529.87 1211.21,529.86 1213.08,529.86 1214.94,529.86 1216.81,529.85 1218.67,529.85 1220.54,529.85 1222.41,529.84 1224.27,529.84 1226.14,529.84 1228.01,529.83 1229.87,529.83 1231.74,529.83 1233.60,529.82 1235.47,529.82 1237.34,529.82 1239.20,529.82 1241.07,529.81 1242.94,529.81 1244.80,529.81 1246.67,529.81 1248.53,529.80 1250.40,529.80 1252.27,529.80 1254.13,529.80 1256.00,529.79"/>
<polyline stroke="#DD6430" points="138.10,531.57 139.97,531.62 141.83,531.66 143.70,531.71 145.57,531.76 147.43,531.80 149.30,531.85 151.16,531.90 153.03,531.95 154.90,532.01 156.76,532.06 158.63,532.12 160.50,532.17 162.36,532.23 164.23,532.29 166.09,532.35 167.96,532.41 169.83,532.47 171.69,532.54 173.56,532.60 175.43,532.67 177.29,532.74 179.16,532.81 181.02,532.89 182.89,532.96 184.76,533.04 186.62,533.11 188.49,533.19 190.36,533.27 192.22,533.36 194.09,533.44 195.95,533.53 197.82,533.62 199.69,533.71 201.55,533.81 203.42,533.90 205.29,534.00 207.15,534.10 209.02,534.20 210.88,534.31 212.75,534.41 214.62,534.52 216.48,534.64 218.35,534.75 220.22,534.87 222.08,534.99 223.95,535.11 225.82,535.24 227.68,535.37 229.55,535.50 231.41,535.64 233.28,535.78 235.15,535.92 237.01,536.06 238.88,536.21 240.75,536.36 242.61,536.52 244.48,536.68 246.34,536.84 248.21,537.01 250.08,537.18 251.94,537.35 253.81,537.53 255.68,537.71 257.54,537.90 259.41,538.09 261.27,538.28 263.14,538.48 265.01,538.69 266.87,538.90 268.74,539.11 270.61,539.33 272.47,539.56 274.34,539.79 276.20,540.02 278.07,540.26 279.94,540.51 281.80,540.76 283.67,541.02 285.54,541.28 287.40,541.55 289.27,541.83 291.13,542.11 293.00,542.40 294.87,542.69 296.73,542.99 298.60,543.30 300.47,543.62 302.33,543.94 304.20,544.28 306.06,544.61 307.93,544.96 309.80,545.32 311.66,545.68 313.53,546.05 315.40,546.43 317.26,546.82 319.13,547.22 321.00,547.62 322.86,548.04 324.73,548.47 326.59,548.90 328.46,549.35 330.33,549.80 332.19,550.27 334.06,550.74 335.93,551.23 337.79,551.73 339.66,552.24 341.52,552.76 343.39,553.30 345.26,553.84 347.12,554.40 348.99,554.97 350.86,555.56 352.72,556.15 354.59,556.76 356.45,557.39 358.32,558.03 360.19,558.68 362.05,559.35 363.92,560.03 365.79,560.73 367.65,561.44 369.52,562.17 371.38,562.91 373.25,563.68 375.12,564.46 376.98,565.25 378.85,566.06 380.72,566.90 382.58,567.75 384.45,568.61 386.31,569.50 388.18,570.41 390.05,571.33 391.91,572.28 393.78,573.24 395.65,574.23 397.51,575.24 399.38,576.27 401.25,577.32 403.11,578.39 404.98,579.48 406.84,580.60 408.71,581.74 410.58,582.91 412.44,584.09 414.31,585.31 416.18,586.54 418.04,587.80 419.91,589.09 421.77,590.40 423.64,591.74 425.51,593.10 427.37,594.49 429.24,595.90 431.11,597.35 432.97,598.81 434.84,600.31 436.70,601.83 438.57,603.38 440.44,604.96 442.30,606.57 444.17,608.20 446.04,609.86 447.90,611.55 449.77,613.27 451.63,615.01 453.50,616.78 455.37,618.58 457.23,620.41 459.10,622.26 460.97,624.15 462.83,626.05 464.70,627.99 466.56,629.95 468.43,631.94 470.30,633.95 472.16,635.99 474.03,638.05 475.90,640.14 477.76,642.24 479.63,644.38 481.49,646.53 483.36,648.70 485.23,650.90 487.09,653.11 488.96,655.34 490.83,657.59 492.69,659.86 494.56,662.14 496.43,664.43 498.29,666.74 500.16,669.05 502.02,671.38 503.89,673.72 505.76,676.06 507.62,678.41 509.49,680.76 511.36,683.12 513.22,685.47 515.09,687.83 516.95,690.18 518.82,692.53 520.69,694.88 522.55,697.22 524.42,699.55 526.29,701.86 528.15,704.17 530.02,706.46 531.88,708.74 533.75,711.00 535.62,713.24 537.48,715.46 539.35,717.66 541.22,719.84 543.08,721.98 544.95,724.11 546.81,726.20 548.68,728.26 550.55,730.30 552.41,732.30 554.28,734.26 556.15,736.19 558.01,738.08 559.88,739.94 561.74,741.75 563.61,743.52 565.48,745.26 567.34,746.95 569.21,748.59 571.08,750.19 572.94,751.75 574.81,753.26 576.68,754.72 578.54,756.13 580.41,757.49 582.27,758.81 584.14,760.07 586.01,761.28 587.87,762.44 589.74,763.55 591.61,764.61 593.47,765.61 595.34,766.56 597.20,767.46 599.07,768.30 600.94,769.08 602.80,769.81 604.67,770.49 606.54,771.11 608.40,771.67 610.27,772.18 612.13,772.63 614.00,773.02 615.87,773.36 617.73,773.64 619.60,773.87 621.47,774.03 623.33,774.14 625.20,774.20 627.06,774.19 628.93,774.13 630.80,774.02 632.66,773.84 634.53,773.61 636.40,773.32 638.26,772.98 640.13,772.58 641.99,772.12 643.86,771.60 645.73,771.03 647.59,770.41 649.46,769.72 651.33,768.99 653.19,768.19 655.06,767.35 656.93,766.44 658.79,765.49 660.66,764.48 662.52,763.42 664.39,762.30 666.26,761.14 668.12,759.92 669.99,758.65 671.86,757.33 673.72,755.96 675.59,754.54 677.45,753.07 679.32,751.56 681.19,750.00 683.05,748.39 684.92,746.74 686.79,745.04 688.65,743.31 690.52,741.53 692.38,739.71 694.25,737.85 696.12,735.95 697.98,734.02 699.85,732.05 701.72,730.04 703.58,728.01 705.45,725.94 707.31,723.84 709.18,721.72 711.05,719.57 712.91,717.39 714.78,715.19 716.65,712.96 718.51,710.72 720.38,708.46 722.24,706.18 724.11,703.88 725.98,701.58 727.84,699.25 729.71,696.92 731.58,694.59 733.44,692.24 735.31,689.89 737.17,687.53 739.04,685.18 740.91,682.82 742.77,680.47 744.64,678.11 746.51,675.77 748.37,673.42 750.24,671.09 752.11,668.76 753.97,666.45 755.84,664.14 757.70,661.85 759.57,659.57 761.44,657.31 763.30,655.06 765.17,652.83 767.04,650.62 768.90,648.43 770.77,646.26 772.63,644.11 774.50,641.98 776.37,639.87 778.23,637.79 780.10,635.73 781.97,633.70 783.83,631.69 785.70,629.70 787.56,627.75 789.43,625.81 791.30,623.91 793.16,622.03 795.03,620.18 796.90,618.36 798.76,616.56 800.63,614.79 802.49,613.05 804.36,611.34 806.23,609.65 808.09,607.99 809.96,606.36 811.83,604.76 813.69,603.19 815.56,601.64 817.42,600.12 819.29,598.63 821.16,597.16 823.02,595.73 824.89,594.31 826.76,592.93 828.62,591.57 830.49,590.23 832.36,588.93 834.22,587.64 836.09,586.39 837.95,585.15 839.82,583.94 841.69,582.76 843.55,581.60 845.42,580.46 847.29,579.35 849.15,578.25 851.02,577.18 852.88,576.14 854.75,575.11 856.62,574.11 858.48,573.12 860.35,572.16 862.22,571.22 864.08,570.29 865.95,569.39 867.81,568.50 869.68,567.64 871.55,566.79 873.41,565.96 875.28,565.15 877.15,564.36 879.01,563.58 880.88,562.82 882.74,562.08 884.61,561.35 886.48,560.64 888.34,559.94 890.21,559.26 892.08,558.60 893.94,557.95 895.81,557.31 897.67,556.69 899.54,556.08 901.41,555.48 903.27,554.90 905.14,554.33 907.01,553.77 908.87,553.23 910.74,552.70 912.61,552.18 914.47,551.67 916.34,551.17 918.20,550.68 920.07,550.21 921.94,549.74 923.80,549.29 925.67,548.85 927.54,548.41 929.40,547.99 931.27,547.57 933.13,547.17 935.00,546.77 936.87,546.38 938.73,546.00 940.60,545.63 942.47,545.27 944.33,544.92 946.20,544.57 948.06,544.23 949.93,543.90 951.80,543.58 953.66,543.26 955.53,542.96 957.40,542.65 959.26,542.36 961.13,542.07 962.99,541.79 964.86,541.52 966.73,541.25 968.59,540.98 970.46,540.73 972.33,540.48 974.19,540.23 976.06,539.99 977.92,539.76 979.79,539.53 981.66,539.30 983.52,539.09 985.39,538.87 987.26,538.66 989.12,538.46 990.99,538.26 992.85,538.06 994.72,537.87 996.59,537.69 998.45,537.51 1000.32,537.33 1002.19,537.15 1004.05,536.98 1005.92,536.82 1007.79,536.66 1009.65,536.50 1011.52,536.34 1013.38,536.19 1015.25,536.04 1017.12,535.90 1018.98,535.76 1020.85,535.62 1022.72,535.48 1024.58,535.35 1026.45,535.22 1028.31,535.10 1030.18,534.98 1032.05,534.85 1033.91,534.74 1035.78,534.62 1037.65,534.51 1039.51,534.40 1041.38,534.29 1043.24,534.19 1045.11,534.09 1046.98,533.99 1048.84,533.89 1050.71,533.79 1052.58,533.70 1054.44,533.61 1056.31,533.52 1058.17,533.43 1060.04,533.35 1061.91,533.26 1063.77,533.18 1065.64,533.10 1067.51,533.03 1069.37,532.95 1071.24,532.88 1073.10,532.80 1074.97,532.73 1076.84,532.66 1078.70,532.60 1080.57,532.53 1082.44,532.47 1084.30,532.40 1086.17,532.34 1088.04,532.28 1089.90,532.22 1091.77,532.16 1093.63,532.11 1095.50,532.05 1097.37,532.00 1099.23,531.95 1101.10,531.90 1102.97,531.85 1104.83,531.80 1106.70,531.75 1108.56,531.70 1110.43,531.66 1112.30,531.61 1114.16,531.57 1116.03,531.53 1117.90,531.48 1119.76,531.44 1121.63,531.40 1123.49,531.37 1125.36,531.33 1127.23,531.29 1129.09,531.25 1130.96,531.22 1132.83,531.18 1134.69,531.15 1136.56,531.12 1138.42,531.08 1140.29,531.05 1142.16,531.02 1144.02,530.99 1145.89,530.96 1147.76,530.93 1149.62,530.91 1151.49,530.88 1153.35,530.85 1155.22,530.83 1157.09,530.80 1158.95,530.77 1160.82,530.75 1162.69,530.73 1164.55,530.70 1166.42,530.68 1168.28,530.66 1170.15,530.64 1172.02,530.61 1173.88,530.59 1175.75,530.57 1177.62,530.55 1179.48,530.53 1181.35,530.51 1183.22,530.50 1185.08,530.48 1186.95,530.46 1188.81,530.44 1190.68,530.43 1192.55,530.41 1194.41,530.39 1196.28,530.38 1198.15,530.36 1200.01,530.35 1201.88,530.33 1203.74,530.32 1205.61,530.30 1207.48,530.29 1209.34,530.28 1211.21,530.26 1213.08,530.25 1214.94,530.24 1216.81,530.23 1218.67,530.21 1220.54,530.20 1222.41,530.19 1224.27,530.18 1226.14,530.17 1228.01,530.16 1229.87,530.15 1231.74,530.14 1233.60,530.13 1235.47,530.12 1237.34,530.11 1239.20,530.10 1241.07,530.09 1242.94,530.08 1244.80,530.07 1246.67,530.06 1248.53,530.06 1250.40,530.05 1252.27,530.04 1254.13,530.03 1256.00,530.02"/>
<polyline stroke="#EFB936" points="138.10,531.68 139.97,531.73 141.83,531.78 143.70,531.83 145.57,531.88 147.43,531.93 149.30,531.98 151.16,532.03 153.03,532.09 154.90,532.14 156.76,532.20 158.63,532.26 160.50,532.32 162.36,532.38 164.23,532.44 166.09,532.50 167.96,532.57 169.83,532.64 171.69,532.71 173.56,532.78 175.43,532.85 177.29,532.92 179.16,533.00 181.02,533.07 182.89,533.15 184.76,533.23 186.62,533.31 188.49,533.40 190.36,533.49 192.22,533.57 194.09,533.66 195.95,533.76 197.82,533.85 199.69,533.95 201.55,534.05 203.42,534.15 205.29,534.25 207.15,534.36 209.02,534.47 210.88,534.58 212.75,534.69 214.62,534.81 216.48,534.93 218.35,535.05 220.22,535.17 222.08,535.30 223.95,535.43 225.82,535.57 227.68,535.70 229.55,535.84 231.41,535.99 233.28,536.13 235.15,536.28 237.01,536.44 238.88,536.59 240.75,536.75 242.61,536.92 244.48,537.09 246.34,537.26 248.21,537.44 250.08,537.62 251.94,537.80 253.81,537.99 255.68,538.18 257.54,538.38 259.41,538.58 261.27,538.79 263.14,539.00 265.01,539.22 266.87,539.44 268.74,539.67 270.61,539.90 272.47,540.14 274.34,540.38 276.20,540.63 278.07,540.88 279.94,541.14 281.80,541.41 283.67,541.68 285.54,541.96 287.40,542.25 289.27,542.54 291.13,542.84 293.00,543.15 294.87,543.46 296.73,543.78 298.60,544.11 300.47,544.44 302.33,544.78 304.20,545.14 306.06,545.49 307.93,545.86 309.80,546.24 311.66,546.62 313.53,547.02 315.40,547.42 317.26,547.83 319.13,548.25 321.00,548.68 322.86,549.12 324.73,549.57 326.59,550.03 328.46,550.51 330.33,550.99 332.19,551.48 334.06,551.99 335.93,552.51 337.79,553.03 339.66,553.57 341.52,554.13 343.39,554.69 345.26,555.27 347.12,555.86 348.99,556.47 350.86,557.09 352.72,557.72 354.59,558.37 356.45,559.03 358.32,559.70 360.19,560.40 362.05,561.10 363.92,561.83 365.79,562.57 367.65,563.32 369.52,564.10 371.38,564.89 373.25,565.69 375.12,566.52 376.98,567.36 378.85,568.23 380.72,569.11 382.58,570.01 384.45,570.93 386.31,571.87 388.18,572.83 390.05,573.82 391.91,574.82 393.78,575.84 395.65,576.89 397.51,577.96 399.38,579.05 401.25,580.17 403.11,581.31 404.98,582.47 406.84,583.66 408.71,584.87 410.58,586.11 412.44,587.37 414.31,588.66 416.18,589.97 418.04,591.31 419.91,592.68 421.77,594.08 423.64,595.50 425.51,596.95 427.37,598.43 429.24,599.93 431.11,601.47 432.97,603.03 434.84,604.63 436.70,606.25 438.57,607.91 440.44,609.59 442.30,611.30 444.17,613.05 446.04,614.82 447.90,616.62 449.77,618.46 451.63,620.32 453.50,622.22 455.37,624.15 457.23,626.10 459.10,628.09 460.97,630.11 462.83,632.16 464.70,634.23 466.56,636.34 468.43,638.48 470.30,640.64 472.16,642.83 474.03,645.06 475.90,647.31 477.76,649.58 479.63,651.88 481.49,654.21 483.36,656.56 485.23,658.94 487.09,661.34 488.96,663.76 490.83,666.21 492.69,668.67 494.56,671.16 496.43,673.66 498.29,676.18 500.16,678.72 502.02,681.27 503.89,683.84 505.76,686.42 507.62,689.01 509.49,691.61 511.36,694.21 513.22,696.83 515.09,699.45 516.95,702.07 518.82,704.70 520.69,707.33 522.55,709.95 524.42,712.58 526.29,715.20 528.15,717.81 530.02,720.42 531.88,723.02 533.75,725.61 535.62,728.19 537.48,730.76 539.35,733.31 541.22,735.85 543.08,738.37 544.95,740.87 546.81,743.35 548.68,745.81 550.55,748.24 552.41,750.66 554.28,753.04 556.15,755.41 558.01,757.74 559.88,760.05 561.74,762.32 563.61,764.57 565.48,766.78 567.34,768.97 569.21,771.12 571.08,773.23 572.94,775.32 574.81,777.36 576.68,779.37 578.54,781.35 580.41,783.29 582.27,785.19 584.14,787.05 586.01,788.87 587.87,790.66 589.74,792.41 591.61,794.11 593.47,795.78 595.34,797.41 597.20,799.00 599.07,800.55 600.94,802.06 602.80,803.53 604.67,804.95 606.54,806.34 608.40,807.69 610.27,808.99 612.13,810.26 614.00,811.48 615.87,812.67 617.73,813.81 619.60,814.92 621.47,815.98 623.33,817.00 625.20,817.99 627.06,818.93 628.93,819.83 630.80,820.70 632.66,821.52 634.53,822.31 636.40,823.05 638.26,823.76 640.13,824.42 641.99,825.05 643.86,825.64 645.73,826.18 647.59,826.69 649.46,827.16 651.33,827.60 653.19,827.99 655.06,828.34 656.93,828.66 658.79,828.94 660.66,829.18 662.52,829.38 664.39,829.54 666.26,829.67 668.12,829.75 669.99,829.80 671.86,829.81 673.72,829.78 675.59,829.71 677.45,829.61 679.32,829.47 681.19,829.29 683.05,829.07 684.92,828.81 686.79,828.51 688.65,828.18 690.52,827.80 692.38,827.39 694.25,826.94 696.12,826.45 697.98,825.92 699.85,825.35 701.72,824.75 703.58,824.10 705.45,823.42 707.31,822.69 709.18,821.93 711.05,821.13 712.91,820.28 714.78,819.40 716.65,818.48 718.51,817.51 720.38,816.51 722.24,815.47 724.11,814.38 725.98,813.26 727.84,812.10 729.71,810.89 731.58,809.65 733.44,808.36 735.31,807.04 737.17,805.67 739.04,804.26 740.91,802.82 742.77,801.33 744.64,799.80 746.51,798.23 748.37,796.62 750.24,794.98 752.11,793.29 753.97,791.56 755.84,789.79 757.70,787.99 759.57,786.15 761.44,784.27 763.30,782.35 765.17,780.39 767.04,778.40 768.90,776.37 770.77,774.31 772.63,772.21 774.50,770.07 776.37,767.91 778.23,765.71 780.10,763.48 781.97,761.22 783.83,758.93 785.70,756.61 787.56,754.26 789.43,751.88 791.30,749.48 793.16,747.06 795.03,744.61 796.90,742.14 798.76,739.65 800.63,737.14 802.49,734.61 804.36,732.07 806.23,729.51 808.09,726.94 809.96,724.35 811.83,721.76 813.69,719.15 815.56,716.54 817.42,713.92 819.29,711.30 821.16,708.67 823.02,706.05 824.89,703.42 826.76,700.79 828.62,698.17 830.49,695.55 832.36,692.94 834.22,690.34 836.09,687.74 837.95,685.16 839.82,682.59 841.69,680.03 843.55,677.48 845.42,674.95 847.29,672.44 849.15,669.95 851.02,667.47 852.88,665.02 854.75,662.58 856.62,660.17 858.48,657.78 860.35,655.42 862.22,653.07 864.08,650.76 865.95,648.47 867.81,646.21 869.68,643.97 871.55,641.76 873.41,639.58 875.28,637.43 877.15,635.31 879.01,633.22 880.88,631.16 882.74,629.12 884.61,627.12 886.48,625.15 888.34,623.21 890.21,621.29 892.08,619.41 893.94,617.56 895.81,615.74 897.67,613.95 899.54,612.19 901.41,610.46 903.27,608.77 905.14,607.10 907.01,605.46 908.87,603.85 910.74,602.27 912.61,600.72 914.47,599.20 916.34,597.70 918.20,596.24 920.07,594.80 921.94,593.39 923.80,592.01 925.67,590.66 927.54,589.33 929.40,588.03 931.27,586.75 933.13,585.50 935.00,584.28 936.87,583.08 938.73,581.90 940.60,580.75 942.47,579.62 944.33,578.52 946.20,577.44 948.06,576.38 949.93,575.34 951.80,574.33 953.66,573.33 955.53,572.36 957.40,571.41 959.26,570.48 961.13,569.57 962.99,568.68 964.86,567.80 966.73,566.95 968.59,566.12 970.46,565.30 972.33,564.50 974.19,563.72 976.06,562.95 977.92,562.21 979.79,561.47 981.66,560.76 983.52,560.06 985.39,559.37 987.26,558.70 989.12,558.05 990.99,557.41 992.85,556.78 994.72,556.17 996.59,555.57 998.45,554.99 1000.32,554.42 1002.19,553.86 1004.05,553.31 1005.92,552.77 1007.79,552.25 1009.65,551.74 1011.52,551.24 1013.38,550.75 1015.25,550.28 1017.12,549.81 1018.98,549.35 1020.85,548.91 1022.72,548.47 1024.58,548.04 1026.45,547.63 1028.31,547.22 1030.18,546.82 1032.05,546.43 1033.91,546.05 1035.78,545.68 1037.65,545.32 1039.51,544.96 1041.38,544.62 1043.24,544.28 1045.11,543.95 1046.98,543.62 1048.84,543.31 1050.71,543.00 1052.58,542.69 1054.44,542.40 1056.31,542.11 1058.17,541.83 1060.04,541.55 1061.91,541.28 1063.77,541.02 1065.64,540.76 1067.51,540.51 1069.37,540.26 1071.24,540.02 1073.10,539.79 1074.97,539.56 1076.84,539.33 1078.70,539.11 1080.57,538.90 1082.44,538.69 1084.30,538.48 1086.17,538.28 1088.04,538.09 1089.90,537.90 1091.77,537.71 1093.63,537.53 1095.50,537.35 1097.37,537.18 1099.23,537.00 1101.10,536.84 1102.97,536.68 1104.83,536.52 1106.70,536.36 1108.56,536.21 1110.43,536.06 1112.30,535.92 1114.16,535.77 1116.03,535.64 1117.90,535.50 1119.76,535.37 1121.63,535.24 1123.49,535.11 1125.36,534.99 1127.23,534.87 1129.09,534.75 1130.96,534.64 1132.83,534.52 1134.69,534.41 1136.56,534.31 1138.42,534.20 1140.29,534.10 1142.16,534.00 1144.02,533.90 1145.89,533.80 1147.76,533.71 1149.62,533.62 1151.49,533.53 1153.35,533.44 1155.22,533.36 1157.09,533.27 1158.95,533.19 1160.82,533.11 1162.69,533.04 1164.55,532.96 1166.42,532.89 1168.28,532.81 1170.15,532.74 1172.02,532.67 1173.88,532.60 1175.75,532.54 1177.62,532.47 1179.48,532.41 1181.35,532.35 1183.22,532.29 1185.08,532.23 1186.95,532.17 1188.81,532.12 1190.68,532.06 1192.55,532.01 1194.41,531.95 1196.28,531.90 1198.15,531.85 1200.01,531.80 1201.88,531.76 1203.74,531.71 1205.61,531.66 1207.48,531.62 1209.34,531.57 1211.21,531.53 1213.08,531.49 1214.94,531.45 1216.81,531.41 1218.67,531.37 1220.54,531.33 1222.41,531.29 1224.27,531.26 1226.14,531.22 1228.01,531.19 1229.87,531.15 1231.74,531.12 1233.60,531.09 1235.47,531.06 1237.34,531.03 1239.20,531.00 1241.07,530.97 1242.94,530.94 1244.80,530.91 1246.67,530.88 1248.53,530.85 1250.40,530.83 1252.27,530.80 1254.13,530.78 1256.00,530.75"/>
<polyline stroke="#8B4499" points="138.10,531.72 139.97,531.77 141.83,531.82 143.70,531.87 145.57,531.92 147.43,531.97 149.30,532.02 151.16,532.07 153.03,532.13 154.90,532.19 156.76,532.25 158.63,532.30 160.50,532.37 162.36,532.43 164.23,532.49 166.09,532.56 167.96,532.62 169.83,532.69 171.69,532.76 173.56,532.83 175.43,532.91 177.29,532.98 179.16,533.06 181.02,533.13 182.89,533.21 184.76,533.30 186.62,533.38 188.49,533.47 190.36,533.55 192.22,533.64 194.09,533.74 195.95,533.83 197.82,533.93 199.69,534.03 201.55,534.13 203.42,534.23 205.29,534.34 207.15,534.44 209.02,534.55 210.88,534.67 212.75,534.78 214.62,534.90 216.48,535.02 218.35,535.15 220.22,535.27 222.08,535.40 223.95,535.54 225.82,535.67 227.68,535.81 229.55,535.96 231.41,536.10 233.28,536.25 235.15,536.40 237.01,536.56 238.88,536.72 240.75,536.88 242.61,537.05 244.48,537.22 246.34,537.40 248.21,537.58 250.08,537.76 251.94,537.95 253.81,538.14 255.68,538.34 257.54,538.54 259.41,538.75 261.27,538.96 263.14,539.17 265.01,539.39 266.87,539.62 268.74,539.85 270.61,540.09 272.47,540.33 274.34,540.58 276.20,540.83 278.07,541.09 279.94,541.35 281.80,541.63 283.67,541.90 285.54,542.19 287.40,542.48 289.27,542.78 291.13,543.08 293.00,543.39 294.87,543.71 296.73,544.04 298.60,544.37 300.47,544.71 302.33,545.06 304.20,545.42 306.06,545.78 307.93,546.16 309.80,546.54 311.66,546.93 313.53,547.33 315.40,547.74 317.26,548.16 319.13,548.59 321.00,549.03 322.86,549.48 324.73,549.94 326.59,550.41 328.46,550.89 330.33,551.38 332.19,551.88 334.06,552.40 335.93,552.92 337.79,553.46 339.66,554.01 341.52,554.58 343.39,555.15 345.26,555.74 347.12,556.34 348.99,556.96 350.86,557.59 352.72,558.23 354.59,558.89 356.45,559.57 358.32,560.26 360.19,560.96 362.05,561.68 363.92,562.42 365.79,563.17 367.65,563.94 369.52,564.73 371.38,565.54 373.25,566.36 375.12,567.20 376.98,568.06 378.85,568.94 380.72,569.84 382.58,570.75 384.45,571.69 386.31,572.65 388.18,573.63 390.05,574.63 391.91,575.65 393.78,576.70 395.65,577.77 397.51,578.86 399.38,579.97 401.25,581.11 403.11,582.27 404.98,583.45 406.84,584.66 408.71,585.90 410.58,587.16 412.44,588.45 414.31,589.76 416.18,591.10 418.04,592.47 419.91,593.86 421.77,595.28 423.64,596.74 425.51,598.21 427.37,599.72 429.24,601.26 431.11,602.83 432.97,604.42 434.84,606.05 436.70,607.71 438.57,609.39 440.44,611.11 442.30,612.86 444.17,614.64 446.04,616.45 447.90,618.29 449.77,620.17 451.63,622.07 453.50,624.01 455.37,625.98 457.23,627.98 459.10,630.01 460.97,632.07 462.83,634.16 464.70,636.29 466.56,638.44 468.43,640.63 470.30,642.84 472.16,645.09 474.03,647.36 475.90,649.66 477.76,652.00 479.63,654.35 481.49,656.74 483.36,659.15 485.23,661.59 487.09,664.05 488.96,666.54 490.83,669.05 492.69,671.58 494.56,674.13 496.43,676.70 498.29,679.30 500.16,681.91 502.02,684.53 503.89,687.17 505.76,689.83 507.62,692.50 509.49,695.18 511.36,697.87 513.22,700.57 515.09,703.28 516.95,705.99 518.82,708.71 520.69,711.43 522.55,714.15 524.42,716.87 526.29,719.59 528.15,722.31 530.02,725.03 531.88,727.73 533.75,730.44 535.62,733.13 537.48,735.81 539.35,738.48 541.22,741.13 543.08,743.78 544.95,746.40 546.81,749.01 548.68,751.60 550.55,754.18 552.41,756.73 554.28,759.26 556.15,761.76 558.01,764.25 559.88,766.70 561.74,769.14 563.61,771.54 565.48,773.92 567.34,776.27 569.21,778.59 571.08,780.88 572.94,783.14 574.81,785.37 576.68,787.56 578.54,789.73 580.41,791.86 582.27,793.96 584.14,796.03 586.01,798.06 587.87,800.06 589.74,802.03 591.61,803.96 593.47,805.86 595.34,807.72 597.20,809.55 599.07,811.34 600.94,813.10 602.80,814.82 604.67,816.51 606.54,818.17 608.40,819.79 610.27,821.38 612.13,822.93 614.00,824.45 615.87,825.94 617.73,827.39 619.60,828.81 621.47,830.19 623.33,831.55 625.20,832.87 627.06,834.15 628.93,835.41 630.80,836.63 632.66,837.82 634.53,838.98 636.40,840.11 638.26,841.21 640.13,842.28 641.99,843.32 643.86,844.33 645.73,845.31 647.59,846.26 649.46,847.18 651.33,848.07 653.19,848.93 655.06,849.77 656.93,850.58 658.79,851.36 660.66,852.11 662.52,852.84 664.39,853.53 666.26,854.21 668.12,854.85 669.99,855.47 671.86,856.07 673.72,856.64 675.59,857.18 677.45,857.70 679.32,858.19 681.19,858.66 683.05,859.10 684.92,859.52 686.79,859.92 688.65,860.29 690.52,860.64 692.38,860.96 694.25,861.26 696.12,861.54 697.98,861.79 699.85,862.02 701.72,862.22 703.58,862.41 705.45,862.57 707.31,862.71 709.18,862.82 711.05,862.91 712.91,862.98 714.78,863.03 716.65,863.05 718.51,863.05 720.38,863.03 722.24,862.98 724.11,862.91 725.98,862.82 727.84,862.71 729.71,862.57 731.58,862.41 733.44,862.23 735.31,862.03 737.17,861.80 739.04,861.54 740.91,861.27 742.77,860.97 744.64,860.65 746.51,860.30 748.37,859.93 750.24,859.54 752.11,859.12 753.97,858.67 755.84,858.21 757.70,857.71 759.57,857.20 761.44,856.65 763.30,856.09 765.17,855.49 767.04,854.87 768.90,854.23 770.77,853.56 772.63,852.86 774.50,852.13 776.37,851.38 778.23,850.60 780.10,849.80 781.97,848.96 783.83,848.10 785.70,847.21 787.56,846.29 789.43,845.34 791.30,844.36 793.16,843.35 795.03,842.32 796.90,841.25 798.76,840.15 800.63,839.02 802.49,837.86 804.36,836.67 806.23,835.45 808.09,834.19 809.96,832.91 811.83,831.59 813.69,830.24 815.56,828.85 817.42,827.44 819.29,825.99 821.16,824.50 823.02,822.98 824.89,821.43 826.76,819.84 828.62,818.22 830.49,816.57 832.36,814.88 834.22,813.16 836.09,811.40 837.95,809.61 839.82,807.78 841.69,805.92 843.55,804.02 845.42,802.09 847.29,800.13 849.15,798.13 851.02,796.10 852.88,794.03 854.75,791.93 856.62,789.80 858.48,787.64 860.35,785.44 862.22,783.21 864.08,780.95 865.95,778.66 867.81,776.34 869.68,774.00 871.55,771.62 873.41,769.22 875.28,766.78 877.15,764.33 879.01,761.85 880.88,759.34 882.74,756.81 884.61,754.26 886.48,751.69 888.34,749.10 890.21,746.49 892.08,743.86 893.94,741.22 895.81,738.57 897.67,735.90 899.54,733.22 901.41,730.52 903.27,727.82 905.14,725.12 907.01,722.40 908.87,719.69 910.74,716.96 912.61,714.24 914.47,711.52 916.34,708.80 918.20,706.08 920.07,703.37 921.94,700.66 923.80,697.96 925.67,695.27 927.54,692.59 929.40,689.92 931.27,687.26 933.13,684.62 935.00,681.99 936.87,679.38 938.73,676.79 940.60,674.22 942.47,671.66 944.33,669.13 946.20,666.62 948.06,664.13 949.93,661.67 951.80,659.23 953.66,656.82 955.53,654.43 957.40,652.07 959.26,649.74 961.13,647.44 962.99,645.16 964.86,642.92 966.73,640.70 968.59,638.52 970.46,636.36 972.33,634.23 974.19,632.14 976.06,630.08 977.92,628.04 979.79,626.04 981.66,624.07 983.52,622.14 985.39,620.23 987.26,618.36 989.12,616.51 990.99,614.70 992.85,612.92 994.72,611.17 996.59,609.45 998.45,607.76 1000.32,606.10 1002.19,604.48 1004.05,602.88 1005.92,601.31 1007.79,599.77 1009.65,598.26 1011.52,596.78 1013.38,595.33 1015.25,593.91 1017.12,592.51 1018.98,591.15 1020.85,589.80 1022.72,588.49 1024.58,587.20 1026.45,585.94 1028.31,584.70 1030.18,583.49 1032.05,582.31 1033.91,581.14 1035.78,580.01 1037.65,578.89 1039.51,577.80 1041.38,576.73 1043.24,575.69 1045.11,574.67 1046.98,573.66 1048.84,572.68 1050.71,571.72 1052.58,570.79 1054.44,569.87 1056.31,568.97 1058.17,568.09 1060.04,567.23 1061.91,566.39 1063.77,565.56 1065.64,564.76 1067.51,563.97 1069.37,563.20 1071.24,562.44 1073.10,561.71 1074.97,560.99 1076.84,560.28 1078.70,559.59 1080.57,558.92 1082.44,558.26 1084.30,557.61 1086.17,556.98 1088.04,556.36 1089.90,555.76 1091.77,555.17 1093.63,554.59 1095.50,554.03 1097.37,553.48 1099.23,552.94 1101.10,552.41 1102.97,551.90 1104.83,551.40 1106.70,550.90 1108.56,550.42 1110.43,549.95 1112.30,549.49 1114.16,549.04 1116.03,548.61 1117.90,548.18 1119.76,547.76 1121.63,547.35 1123.49,546.95 1125.36,546.55 1127.23,546.17 1129.09,545.80 1130.96,545.43 1132.83,545.07 1134.69,544.72 1136.56,544.38 1138.42,544.05 1140.29,543.72 1142.16,543.40 1144.02,543.09 1145.89,542.79 1147.76,542.49 1149.62,542.20 1151.49,541.91 1153.35,541.63 1155.22,541.36 1157.09,541.10 1158.95,540.84 1160.82,540.58 1162.69,540.34 1164.55,540.09 1166.42,539.86 1168.28,539.63 1170.15,539.40 1172.02,539.18 1173.88,538.96 1175.75,538.75 1177.62,538.55 1179.48,538.34 1181.35,538.15 1183.22,537.96 1185.08,537.77 1186.95,537.58 1188.81,537.40 1190.68,537.23 1192.55,537.06 1194.41,536.89 1196.28,536.73 1198.15,536.57 1200.01,536.41 1201.88,536.26 1203.74,536.11 1205.61,535.96 1207.48,535.82 1209.34,535.68 1211.21,535.54 1213.08,535.41 1214.94,535.28 1216.81,535.15 1218.67,535.03 1220.54,534.91 1222.41,534.79 1224.27,534.67 1226.14,534.56 1228.01,534.45 1229.87,534.34 1231.74,534.23 1233.60,534.13 1235.47,534.03 1237.34,533.93 1239.20,533.83 1241.07,533.74 1242.94,533.65 1244.80,533.56 1246.67,533.47 1248.53,533.38 1250.40,533.30 1252.27,533.22 1254.13,533.14 1256.00,533.06"/>
<polyline stroke="#85B445" points="138.10,531.73 139.97,531.78 141.83,531.83 143.70,531.88 145.57,531.93 147.43,531.98 149.30,532.03 151.16,532.09 153.03,532.14 154.90,532.20 156.76,532.26 158.63,532.32 160.50,532.38 162.36,532.44 164.23,532.51 166.09,532.57 167.96,532.64 169.83,532.71 171.69,532.78 173.56,532.85 175.43,532.92 177.29,533.00 179.16,533.08 181.02,533.15 182.89,533.24 184.76,533.32 186.62,533.40 188.49,533.49 190.36,533.58 192.22,533.67 194.09,533.76 195.95,533.85 197.82,533.95 199.69,534.05 201.55,534.15 203.42,534.26 205.29,534.36 207.15,534.47 209.02,534.58 210.88,534.70 212.75,534.81 214.62,534.93 216.48,535.05 218.35,535.18 220.22,535.31 222.08,535.44 223.95,535.57 225.82,535.71 227.68,535.85 229.55,535.99 231.41,536.14 233.28,536.29 235.15,536.44 237.01,536.60 238.88,536.76 240.75,536.92 242.61,537.09 244.48,537.27 246.34,537.44 248.21,537.62 250.08,537.81 251.94,538.00 253.81,538.19 255.68,538.39 257.54,538.59 259.41,538.80 261.27,539.01 263.14,539.23 265.01,539.45 266.87,539.68 268.74,539.91 270.61,540.15 272.47,540.39 274.34,540.64 276.20,540.89 278.07,541.15 279.94,541.42 281.80,541.69 283.67,541.97 285.54,542.26 287.40,542.55 289.27,542.85 291.13,543.16 293.00,543.47 294.87,543.79 296.73,544.12 298.60,544.45 300.47,544.80 302.33,545.15 304.20,545.51 306.06,545.88 307.93,546.25 309.80,546.64 311.66,547.03 313.53,547.43 315.40,547.85 317.26,548.27 319.13,548.70 321.00,549.14 322.86,549.59 324.73,550.05 326.59,550.53 328.46,551.01 330.33,551.50 332.19,552.01 334.06,552.53 335.93,553.06 337.79,553.60 339.66,554.15 341.52,554.72 343.39,555.30 345.26,555.89 347.12,556.50 348.99,557.12 350.86,557.75 352.72,558.40 354.59,559.06 356.45,559.74 358.32,560.43 360.19,561.14 362.05,561.87 363.92,562.61 365.79,563.37 367.65,564.14 369.52,564.93 371.38,565.74 373.25,566.57 375.12,567.42 376.98,568.28 378.85,569.17 380.72,570.07 382.58,570.99 384.45,571.94 386.31,572.90 388.18,573.89 390.05,574.89 391.91,575.92 393.78,576.97 395.65,578.05 397.51,579.14 399.38,580.26 401.25,581.41 403.11,582.57 404.98,583.77 406.84,584.98 408.71,586.23 410.58,587.50 412.44,588.79 414.31,590.11 416.18,591.46 418.04,592.84 419.91,594.24 421.77,595.67 423.64,597.13 425.51,598.62 427.37,600.14 429.24,601.68 431.11,603.26 432.97,604.87 434.84,606.50 436.70,608.17 438.57,609.87 440.44,611.60 442.30,613.36 444.17,615.15 446.04,616.97 447.90,618.83 449.77,620.71 451.63,622.63 453.50,624.58 455.37,626.56 457.23,628.58 459.10,630.62 460.97,632.70 462.83,634.81 464.70,636.95 466.56,639.12 468.43,641.32 470.30,643.55 472.16,645.81 474.03,648.10 475.90,650.42 477.76,652.77 479.63,655.15 481.49,657.55 483.36,659.98 485.23,662.44 487.09,664.92 488.96,667.43 490.83,669.96 492.69,672.51 494.56,675.08 496.43,677.68 498.29,680.29 500.16,682.92 502.02,685.57 503.89,688.24 505.76,690.92 507.62,693.62 509.49,696.32 511.36,699.04 513.22,701.77 515.09,704.50 516.95,707.24 518.82,709.99 520.69,712.74 522.55,715.50 524.42,718.25 526.29,721.00 528.15,723.75 530.02,726.50 531.88,729.24 533.75,731.98 535.62,734.71 537.48,737.43 539.35,740.13 541.22,742.83 543.08,745.51 544.95,748.18 546.81,750.83 548.68,753.46 550.55,756.08 552.41,758.67 554.28,761.25 556.15,763.80 558.01,766.33 559.88,768.84 561.74,771.32 563.61,773.77 565.48,776.20 567.34,778.61 569.21,780.98 571.08,783.33 572.94,785.64 574.81,787.93 576.68,790.19 578.54,792.41 580.41,794.61 582.27,796.77 584.14,798.91 586.01,801.01 587.87,803.07 589.74,805.11 591.61,807.11 593.47,809.08 595.34,811.02 597.20,812.93 599.07,814.80 600.94,816.64 602.80,818.45 604.67,820.22 606.54,821.96 608.40,823.67 610.27,825.35 612.13,827.00 614.00,828.61 615.87,830.19 617.73,831.75 619.60,833.27 621.47,834.76 623.33,836.21 625.20,837.64 627.06,839.04 628.93,840.41 630.80,841.75 632.66,843.06 634.53,844.35 636.40,845.60 638.26,846.83 640.13,848.03 641.99,849.20 643.86,850.35 645.73,851.46 647.59,852.56 649.46,853.63 651.33,854.67 653.19,855.68 655.06,856.68 656.93,857.65 658.79,858.59 660.66,859.51 662.52,860.41 664.39,861.29 666.26,862.14 668.12,862.97 669.99,863.78 671.86,864.57 673.72,865.33 675.59,866.08 677.45,866.80 679.32,867.51 681.19,868.19 683.05,868.86 684.92,869.50 686.79,870.13 688.65,870.74 690.52,871.33 692.38,871.90 694.25,872.46 696.12,872.99 697.98,873.51 699.85,874.01 701.72,874.50 703.58,874.97 705.45,875.42 707.31,875.85 709.18,876.27 711.05,876.68 712.91,877.06 714.78,877.44 716.65,877.79 718.51,878.13 720.38,878.46 722.24,878.77 724.11,879.07 725.98,879.35 727.84,879.62 729.71,879.88 731.58,880.12 733.44,880.34 735.31,880.55 737.17,880.75 739.04,880.94 740.91,881.11 742.77,881.26 744.64,881.41 746.51,881.54 748.37,881.65 750.24,881.76 752.11,881.85 753.97,881.93 755.84,881.99 757.70,882.04 759.57,882.08 761.44,882.10 763.30,882.12 765.17,882.11 767.04,882.10 768.90,882.07 770.77,882.03 772.63,881.98 774.50,881.91 776.37,881.83 778.23,881.74 780.10,881.63 781.97,881.52 783.83,881.38 785.70,881.24 787.56,881.08 789.43,880.90 791.30,880.72 793.16,880.52 795.03,880.30 796.90,880.07 798.76,879.83 800.63,879.58 802.49,879.30 804.36,879.02 806.23,878.72 808.09,878.41 809.96,878.08 811.83,877.73 813.69,877.37 815.56,877.00 817.42,876.61 819.29,876.20 821.16,875.78 823.02,875.34 824.89,874.89 826.76,874.42 828.62,873.93 830.49,873.42 832.36,872.90 834.22,872.36 836.09,871.80 837.95,871.23 839.82,870.64 841.69,870.02 843.55,869.39 845.42,868.74 847.29,868.07 849.15,867.39 851.02,866.68 852.88,865.95 854.75,865.20 856.62,864.43 858.48,863.64 860.35,862.83 862.22,861.99 864.08,861.13 865.95,860.25 867.81,859.35 869.68,858.43 871.55,857.48 873.41,856.51 875.28,855.51 877.15,854.49 879.01,853.44 880.88,852.37 882.74,851.27 884.61,850.15 886.48,849.00 888.34,847.82 890.21,846.62 892.08,845.38 893.94,844.12 895.81,842.84 897.67,841.52 899.54,840.17 901.41,838.80 903.27,837.40 905.14,835.96 907.01,834.50 908.87,833.00 910.74,831.48 912.61,829.92 914.47,828.33 916.34,826.71 918.20,825.06 920.07,823.38 921.94,821.66 923.80,819.91 925.67,818.13 927.54,816.32 929.40,814.48 931.27,812.60 933.13,810.69 935.00,808.74 936.87,806.77 938.73,804.76 940.60,802.72 942.47,800.64 944.33,798.54 946.20,796.40 948.06,794.23 949.93,792.03 951.80,789.80 953.66,787.53 955.53,785.24 957.40,782.92 959.26,780.57 961.13,778.19 962.99,775.78 964.86,773.35 966.73,770.89 968.59,768.40 970.46,765.89 972.33,763.35 974.19,760.80 976.06,758.22 977.92,755.62 979.79,753.00 981.66,750.37 983.52,747.71 985.39,745.04 987.26,742.36 989.12,739.66 990.99,736.95 992.85,734.23 994.72,731.50 996.59,728.76 998.45,726.02 1000.32,723.27 1002.19,720.52 1004.05,717.77 1005.92,715.01 1007.79,712.26 1009.65,709.51 1011.52,706.77 1013.38,704.02 1015.25,701.29 1017.12,698.57 1018.98,695.85 1020.85,693.14 1022.72,690.45 1024.58,687.77 1026.45,685.11 1028.31,682.46 1030.18,679.83 1032.05,677.22 1033.91,674.63 1035.78,672.06 1037.65,669.51 1039.51,666.99 1041.38,664.48 1043.24,662.01 1045.11,659.55 1046.98,657.13 1048.84,654.73 1050.71,652.36 1052.58,650.01 1054.44,647.70 1056.31,645.41 1058.17,643.16 1060.04,640.93 1061.91,638.73 1063.77,636.57 1065.64,634.44 1067.51,632.33 1069.37,630.26 1071.24,628.22 1073.10,626.22 1074.97,624.24 1076.84,622.30 1078.70,620.38 1080.57,618.50 1082.44,616.65 1084.30,614.84 1086.17,613.05 1088.04,611.29 1089.90,609.57 1091.77,607.88 1093.63,606.22 1095.50,604.58 1097.37,602.98 1099.23,601.41 1101.10,599.87 1102.97,598.36 1104.83,596.87 1106.70,595.42 1108.56,593.99 1110.43,592.59 1112.30,591.22 1114.16,589.88 1116.03,588.56 1117.90,587.27 1119.76,586.01 1121.63,584.77 1123.49,583.56 1125.36,582.37 1127.23,581.21 1129.09,580.07 1130.96,578.95 1132.83,577.86 1134.69,576.79 1136.56,575.74 1138.42,574.72 1140.29,573.71 1142.16,572.73 1144.02,571.77 1145.89,570.83 1147.76,569.91 1149.62,569.01 1151.49,568.13 1153.35,567.27 1155.22,566.42 1157.09,565.60 1158.95,564.79 1160.82,564.00 1162.69,563.23 1164.55,562.48 1166.42,561.74 1168.28,561.02 1170.15,560.31 1172.02,559.62 1173.88,558.95 1175.75,558.28 1177.62,557.64 1179.48,557.01 1181.35,556.39 1183.22,555.79 1185.08,555.20 1186.95,554.62 1188.81,554.05 1190.68,553.50 1192.55,552.96 1194.41,552.44 1196.28,551.92 1198.15,551.42 1200.01,550.93 1201.88,550.44 1203.74,549.97 1205.61,549.51 1207.48,549.06 1209.34,548.62 1211.21,548.19 1213.08,547.77 1214.94,547.36 1216.81,546.96 1218.67,546.57 1220.54,546.19 1222.41,545.81 1224.27,545.45 1226.14,545.09 1228.01,544.74 1229.87,544.40 1231.74,544.06 1233.60,543.73 1235.47,543.42 1237.34,543.10 1239.20,542.80 1241.07,542.50 1242.94,542.21 1244.80,541.92 1246.67,541.65 1248.53,541.37 1250.40,541.11 1252.27,540.85 1254.13,540.59 1256.00,540.35"/>
</g>
<text x="62.70" y="71.80" font-size="35.3" fill="#626262" stroke="#626262" stroke-width="0.0" letter-spacing="0.55">200</text>
<path transform="translate(62.70,216.83) scale(0.01724,-0.01724)" d="M763 0H583V1147Q518 1085 412.5 1023Q307 961 223 930V1104Q374 1175 487 1276Q600 1377 647 1472H763Z" fill="#626262" stroke="#626262" stroke-width="0.0"/><text x="82.89" y="216.83" font-size="35.3" fill="#626262" stroke="#626262" stroke-width="0.0" letter-spacing="0.55">00</text>
<text x="103.07" y="361.87" font-size="35.3" fill="#626262" stroke="#626262" stroke-width="0.0" letter-spacing="0.55">0</text>
<text x="50.40" y="506.90" font-size="35.3" fill="#626262" stroke="#626262" stroke-width="0.0" letter-spacing="0.55">-</text><path transform="translate(62.70,506.90) scale(0.01724,-0.01724)" d="M763 0H583V1147Q518 1085 412.5 1023Q307 961 223 930V1104Q374 1175 487 1276Q600 1377 647 1472H763Z" fill="#626262" stroke="#626262" stroke-width="0.0"/><text x="82.89" y="506.90" font-size="35.3" fill="#626262" stroke="#626262" stroke-width="0.0" letter-spacing="0.55">00</text>
<text x="70.58" y="542.20" font-size="35.3" fill="#626262" stroke="#626262" stroke-width="0.0" letter-spacing="0.55">-90</text>
<text x="50.40" y="667.90" font-size="35.3" fill="#626262" stroke="#626262" stroke-width="0.0" letter-spacing="0.55">-</text><path transform="translate(62.70,667.90) scale(0.01724,-0.01724)" d="M763 0H583V1147Q518 1085 412.5 1023Q307 961 223 930V1104Q374 1175 487 1276Q600 1377 647 1472H763Z" fill="#626262" stroke="#626262" stroke-width="0.0"/><text x="82.89" y="667.90" font-size="35.3" fill="#626262" stroke="#626262" stroke-width="0.0" letter-spacing="0.55">20</text>
<text x="50.40" y="793.60" font-size="35.3" fill="#626262" stroke="#626262" stroke-width="0.0" letter-spacing="0.55">-</text><path transform="translate(62.70,793.60) scale(0.01724,-0.01724)" d="M763 0H583V1147Q518 1085 412.5 1023Q307 961 223 930V1104Q374 1175 487 1276Q600 1377 647 1472H763Z" fill="#626262" stroke="#626262" stroke-width="0.0"/><text x="82.89" y="793.60" font-size="35.3" fill="#626262" stroke="#626262" stroke-width="0.0" letter-spacing="0.55">50</text>
<text x="50.40" y="919.30" font-size="35.3" fill="#626262" stroke="#626262" stroke-width="0.0" letter-spacing="0.55">-</text><path transform="translate(62.70,919.30) scale(0.01724,-0.01724)" d="M763 0H583V1147Q518 1085 412.5 1023Q307 961 223 930V1104Q374 1175 487 1276Q600 1377 647 1472H763Z" fill="#626262" stroke="#626262" stroke-width="0.0"/><text x="82.89" y="919.30" font-size="35.3" fill="#626262" stroke="#626262" stroke-width="0.0" letter-spacing="0.55">80</text>
<path transform="translate(103.45,971.00) scale(0.01724,-0.01724)" d="M763 0H583V1147Q518 1085 412.5 1023Q307 961 223 930V1104Q374 1175 487 1276Q600 1377 647 1472H763Z" fill="#626262" stroke="#626262" stroke-width="0.0"/><text x="123.08" y="971.00" font-size="35.3" fill="#626262" stroke="#626262" stroke-width="0.0" letter-spacing="0.0">0</text>
<text x="143.71" y="953.95" font-size="28.3" fill="#626262" stroke="#626262" stroke-width="0.0" letter-spacing="0.0">-</text><path transform="translate(153.14,953.95) scale(0.01382,-0.01382)" d="M763 0H583V1147Q518 1085 412.5 1023Q307 961 223 930V1104Q374 1175 487 1276Q600 1377 647 1472H763Z" fill="#626262" stroke="#626262" stroke-width="0.0"/>
<path transform="translate(293.77,971.00) scale(0.01724,-0.01724)" d="M763 0H583V1147Q518 1085 412.5 1023Q307 961 223 930V1104Q374 1175 487 1276Q600 1377 647 1472H763Z" fill="#626262" stroke="#626262" stroke-width="0.0"/><text x="313.40" y="971.00" font-size="35.3" fill="#626262" stroke="#626262" stroke-width="0.0" letter-spacing="0.0">0</text>
<text x="334.03" y="953.95" font-size="28.3" fill="#626262" stroke="#626262" stroke-width="0.0" letter-spacing="0.0">0</text>
<path transform="translate(480.08,971.00) scale(0.01724,-0.01724)" d="M763 0H583V1147Q518 1085 412.5 1023Q307 961 223 930V1104Q374 1175 487 1276Q600 1377 647 1472H763Z" fill="#626262" stroke="#626262" stroke-width="0.0"/><text x="499.72" y="971.00" font-size="35.3" fill="#626262" stroke="#626262" stroke-width="0.0" letter-spacing="0.0">0</text>
<path transform="translate(520.35,953.95) scale(0.01382,-0.01382)" d="M763 0H583V1147Q518 1085 412.5 1023Q307 961 223 930V1104Q374 1175 487 1276Q600 1377 647 1472H763Z" fill="#626262" stroke="#626262" stroke-width="0.0"/>
<path transform="translate(666.40,971.00) scale(0.01724,-0.01724)" d="M763 0H583V1147Q518 1085 412.5 1023Q307 961 223 930V1104Q374 1175 487 1276Q600 1377 647 1472H763Z" fill="#626262" stroke="#626262" stroke-width="0.0"/><text x="686.03" y="971.00" font-size="35.3" fill="#626262" stroke="#626262" stroke-width="0.0" letter-spacing="0.0">0</text>
<text x="706.66" y="953.95" font-size="28.3" fill="#626262" stroke="#626262" stroke-width="0.0" letter-spacing="0.0">2</text>
<path transform="translate(852.72,971.00) scale(0.01724,-0.01724)" d="M763 0H583V1147Q518 1085 412.5 1023Q307 961 223 930V1104Q374 1175 487 1276Q600 1377 647 1472H763Z" fill="#626262" stroke="#626262" stroke-width="0.0"/><text x="872.35" y="971.00" font-size="35.3" fill="#626262" stroke="#626262" stroke-width="0.0" letter-spacing="0.0">0</text>
<text x="892.98" y="953.95" font-size="28.3" fill="#626262" stroke="#626262" stroke-width="0.0" letter-spacing="0.0">3</text>
<path transform="translate(1039.03,971.00) scale(0.01724,-0.01724)" d="M763 0H583V1147Q518 1085 412.5 1023Q307 961 223 930V1104Q374 1175 487 1276Q600 1377 647 1472H763Z" fill="#626262" stroke="#626262" stroke-width="0.0"/><text x="1058.67" y="971.00" font-size="35.3" fill="#626262" stroke="#626262" stroke-width="0.0" letter-spacing="0.0">0</text>
<text x="1079.30" y="953.95" font-size="28.3" fill="#626262" stroke="#626262" stroke-width="0.0" letter-spacing="0.0">4</text>
<path transform="translate(1225.35,971.00) scale(0.01724,-0.01724)" d="M763 0H583V1147Q518 1085 412.5 1023Q307 961 223 930V1104Q374 1175 487 1276Q600 1377 647 1472H763Z" fill="#626262" stroke="#626262" stroke-width="0.0"/><text x="1244.98" y="971.00" font-size="35.3" fill="#626262" stroke="#626262" stroke-width="0.0" letter-spacing="0.0">0</text>
<text x="1265.61" y="953.95" font-size="28.3" fill="#626262" stroke="#626262" stroke-width="0.0" letter-spacing="0.0">5</text>
<text class="lb" x="693.0" y="1016.9" text-anchor="middle" xml:space="preserve">Frequency  (rad/s)</text>
<text class="lb" style="font-size:38.9px" transform="translate(31.2,276.6) rotate(-90)" text-anchor="middle">Magnitude (dB)</text>
<text class="lb" transform="translate(31.2,717.7) rotate(-90)" text-anchor="middle">Phase (deg)</text>
<text y="29.6" font-size="38.83" font-weight="bold" fill="#000" xml:space="preserve"><tspan x="51.86">Bode Plots of Open-loop (PI + Plant) </tspan><tspan x="728.4">for Different Natural </tspan><tspan x="1105.3" textLength="231.2" lengthAdjust="spacing">Frequencies</tspan></text>
<rect x="904.6" y="60.9" width="349.80000000000007" height="227.99999999999997" fill="#fff" stroke="#404040" stroke-width="2"/>
<line x1="914.7" y1="87.20" x2="1021.1" y2="87.20" stroke="#1A80C4" stroke-width="2"/>
<path transform="translate(1029.9,101.30)" d="M3.7,-13.9 C1.6,-11.4 0.1,-7.6 0.4,-4.0 C0.6,-1.2 2.0,0.3 3.6,0.1 C6.0,-0.3 8.6,-3.6 9.6,-8.6 C9.2,-5.0 9.4,-0.4 12.2,0.1 C14.6,0.4 17.0,-2.6 18.4,-6.6 C19.4,-9.6 19.4,-12.6 18.2,-13.8 C17.5,-14.4 16.6,-14.0 16.7,-13.0" fill="none" stroke="#000" stroke-width="1.5" stroke-linecap="round" stroke-linejoin="round"/>
<rect x="1049.4" y="103.80" width="19.1" height="3.1" fill="#000"/>
<text class="lg" x="1067.9" y="100.80">c</text><text x="1083.80" y="100.80" font-size="31.8" fill="#000" stroke="#000" stroke-width="0.3" letter-spacing="0.0">=0.</text><path transform="translate(1128.89,100.80) scale(0.01553,-0.01553)" d="M763 0H583V1147Q518 1085 412.5 1023Q307 961 223 930V1104Q374 1175 487 1276Q600 1377 647 1472H763Z" fill="#000" stroke="#000" stroke-width="19.3"/>
<text class="lg" x="1155.41" y="100.80">krad/s</text>
<line x1="914.7" y1="131.20" x2="1021.1" y2="131.20" stroke="#DD6430" stroke-width="2"/>
<path transform="translate(1029.9,143.90)" d="M3.7,-13.9 C1.6,-11.4 0.1,-7.6 0.4,-4.0 C0.6,-1.2 2.0,0.3 3.6,0.1 C6.0,-0.3 8.6,-3.6 9.6,-8.6 C9.2,-5.0 9.4,-0.4 12.2,0.1 C14.6,0.4 17.0,-2.6 18.4,-6.6 C19.4,-9.6 19.4,-12.6 18.2,-13.8 C17.5,-14.4 16.6,-14.0 16.7,-13.0" fill="none" stroke="#000" stroke-width="1.5" stroke-linecap="round" stroke-linejoin="round"/>
<rect x="1049.4" y="146.40" width="19.1" height="3.1" fill="#000"/>
<text class="lg" x="1067.9" y="143.40">c</text><text x="1083.80" y="143.40" font-size="31.8" fill="#000" stroke="#000" stroke-width="0.3" letter-spacing="0.0">=0.2</text>
<text class="lg" x="1155.41" y="143.40">krad/s</text>
<line x1="914.7" y1="175.10" x2="1021.1" y2="175.10" stroke="#EFB936" stroke-width="2"/>
<path transform="translate(1029.9,187.60)" d="M3.7,-13.9 C1.6,-11.4 0.1,-7.6 0.4,-4.0 C0.6,-1.2 2.0,0.3 3.6,0.1 C6.0,-0.3 8.6,-3.6 9.6,-8.6 C9.2,-5.0 9.4,-0.4 12.2,0.1 C14.6,0.4 17.0,-2.6 18.4,-6.6 C19.4,-9.6 19.4,-12.6 18.2,-13.8 C17.5,-14.4 16.6,-14.0 16.7,-13.0" fill="none" stroke="#000" stroke-width="1.5" stroke-linecap="round" stroke-linejoin="round"/>
<rect x="1049.4" y="190.10" width="19.1" height="3.1" fill="#000"/>
<text class="lg" x="1067.9" y="187.10">c</text><text x="1083.80" y="187.10" font-size="31.8" fill="#000" stroke="#000" stroke-width="0.3" letter-spacing="0.0">=0.6</text>
<text class="lg" x="1155.41" y="187.10">krad/s</text>
<line x1="914.7" y1="218.90" x2="1021.1" y2="218.90" stroke="#8B4499" stroke-width="2"/>
<path transform="translate(1029.9,231.80)" d="M3.7,-13.9 C1.6,-11.4 0.1,-7.6 0.4,-4.0 C0.6,-1.2 2.0,0.3 3.6,0.1 C6.0,-0.3 8.6,-3.6 9.6,-8.6 C9.2,-5.0 9.4,-0.4 12.2,0.1 C14.6,0.4 17.0,-2.6 18.4,-6.6 C19.4,-9.6 19.4,-12.6 18.2,-13.8 C17.5,-14.4 16.6,-14.0 16.7,-13.0" fill="none" stroke="#000" stroke-width="1.5" stroke-linecap="round" stroke-linejoin="round"/>
<rect x="1049.4" y="234.30" width="19.1" height="3.1" fill="#000"/>
<text class="lg" x="1067.9" y="231.30">c</text><text x="1083.80" y="231.30" font-size="31.8" fill="#000" stroke="#000" stroke-width="0.3" letter-spacing="0.0">=2.0</text>
<text class="lg" x="1155.41" y="231.30">krad/s</text>
<line x1="914.7" y1="262.70" x2="1021.1" y2="262.70" stroke="#85B445" stroke-width="2"/>
<path transform="translate(1029.9,274.70)" d="M3.7,-13.9 C1.6,-11.4 0.1,-7.6 0.4,-4.0 C0.6,-1.2 2.0,0.3 3.6,0.1 C6.0,-0.3 8.6,-3.6 9.6,-8.6 C9.2,-5.0 9.4,-0.4 12.2,0.1 C14.6,0.4 17.0,-2.6 18.4,-6.6 C19.4,-9.6 19.4,-12.6 18.2,-13.8 C17.5,-14.4 16.6,-14.0 16.7,-13.0" fill="none" stroke="#000" stroke-width="1.5" stroke-linecap="round" stroke-linejoin="round"/>
<rect x="1049.4" y="277.20" width="19.1" height="3.1" fill="#000"/>
<text class="lg" x="1067.9" y="274.20">c</text><text x="1083.80" y="274.20" font-size="31.8" fill="#000" stroke="#000" stroke-width="0.3" letter-spacing="0.0">=6.3</text>
<text class="lg" x="1155.41" y="274.20">krad/s</text>
</svg></body></html>
